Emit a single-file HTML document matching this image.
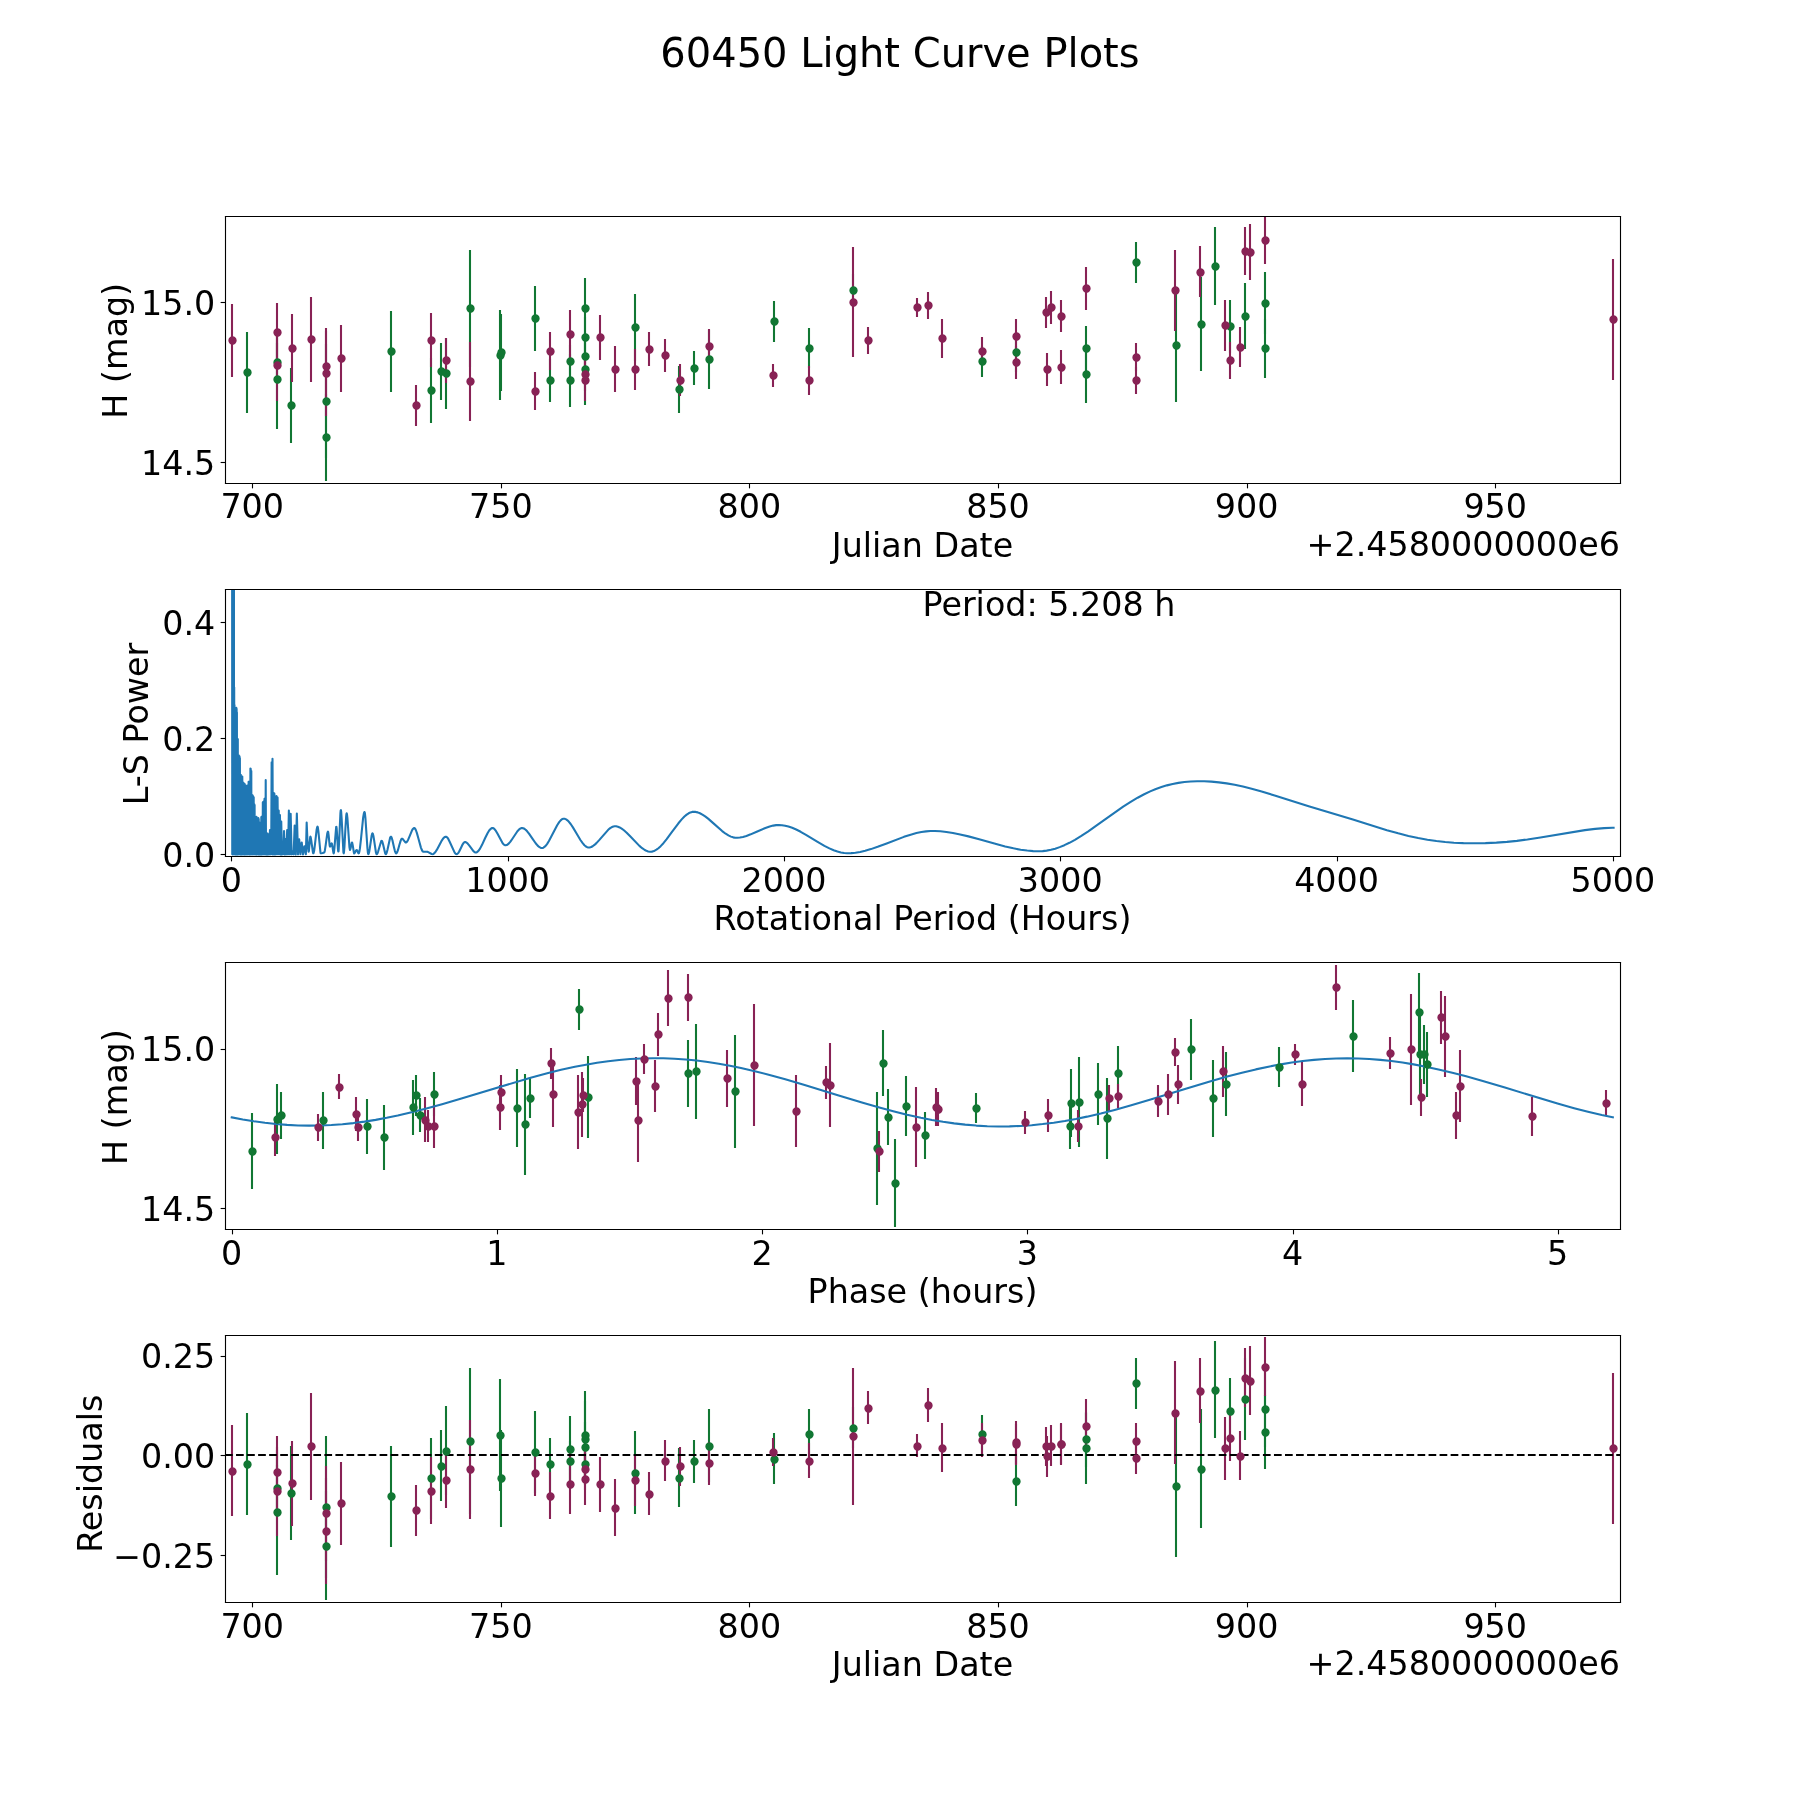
<!DOCTYPE html>
<html><head><meta charset="utf-8"><title>60450 Light Curve Plots</title>
<style>html,body{margin:0;padding:0;background:#fff;}svg{display:block;will-change:transform;}</style>
</head><body>
<svg width="1800" height="1800" viewBox="0 0 1296 1296" version="1.1">
<defs>
<style type="text/css">*{stroke-linejoin: round; stroke-linecap: butt}</style>
</defs>
<g id="figure_1">
<g id="patch_1">
<path d="M 0 1296 L 1296 1296 L 1296 0 L 0 0 z
" style="fill: #ffffff"/>
</g>
<g id="axes_1">
<g id="patch_2">
<path d="M 162 347.427692 L 1166.4 347.427692 L 1166.4 155.52 L 162 155.52 z
" style="fill: #ffffff"/>
</g>
<g id="matplotlib.axis_1">
<g id="xtick_1">
<g id="line2d_1">
<defs>
<path id="m4935d6132a" d="M 0 0 L 0 3.5 " style="stroke: #000000; stroke-width: 0.8"/>
</defs>
<g>
<use href="#m4935d6132a" x="181.8" y="348.12" style="stroke: #000000; stroke-width: 0.8"/>
</g>
</g>
<g id="text_1">
<g transform="translate(0 0.576)"><text style="font-size: 24px; font-family: 'DejaVu Sans', sans-serif; text-anchor: middle" x="181.584" y="372.663942" transform="rotate(-0 181.584 372.663942)">700</text></g>
</g>
</g>
<g id="xtick_2">
<g id="line2d_2">
<g>
<use href="#m4935d6132a" x="361.08" y="348.12" style="stroke: #000000; stroke-width: 0.8"/>
</g>
</g>
<g id="text_2">
<g transform="translate(0 0.576)"><text style="font-size: 24px; font-family: 'DejaVu Sans', sans-serif; text-anchor: middle" x="360.576" y="372.663942" transform="rotate(-0 360.576 372.663942)">750</text></g>
</g>
</g>
<g id="xtick_3">
<g id="line2d_3">
<g>
<use href="#m4935d6132a" x="539.64" y="348.12" style="stroke: #000000; stroke-width: 0.8"/>
</g>
</g>
<g id="text_3">
<g transform="translate(0 0.576)"><text style="font-size: 24px; font-family: 'DejaVu Sans', sans-serif; text-anchor: middle" x="539.568" y="372.663942" transform="rotate(-0 539.568 372.663942)">800</text></g>
</g>
</g>
<g id="xtick_4">
<g id="line2d_4">
<g>
<use href="#m4935d6132a" x="718.92" y="348.12" style="stroke: #000000; stroke-width: 0.8"/>
</g>
</g>
<g id="text_4">
<g transform="translate(0 0.576)"><text style="font-size: 24px; font-family: 'DejaVu Sans', sans-serif; text-anchor: middle" x="718.56" y="372.663942" transform="rotate(-0 718.56 372.663942)">850</text></g>
</g>
</g>
<g id="xtick_5">
<g id="line2d_5">
<g>
<use href="#m4935d6132a" x="898.2" y="348.12" style="stroke: #000000; stroke-width: 0.8"/>
</g>
</g>
<g id="text_5">
<g transform="translate(0 0.576)"><text style="font-size: 24px; font-family: 'DejaVu Sans', sans-serif; text-anchor: middle" x="897.552" y="372.663942" transform="rotate(-0 897.552 372.663942)">900</text></g>
</g>
</g>
<g id="xtick_6">
<g id="line2d_6">
<g>
<use href="#m4935d6132a" x="1076.76" y="348.12" style="stroke: #000000; stroke-width: 0.8"/>
</g>
</g>
<g id="text_6">
<g transform="translate(0 0.576)"><text style="font-size: 24px; font-family: 'DejaVu Sans', sans-serif; text-anchor: middle" x="1076.544" y="372.663942" transform="rotate(-0 1076.544 372.663942)">950</text></g>
</g>
</g>
<g id="text_7">
<g transform="translate(0 0.936)"><text style="font-size: 24px; font-family: 'DejaVu Sans', sans-serif; text-anchor: middle" x="664.2" y="399.891442" transform="rotate(-0 664.2 399.891442)">Julian Date</text></g>
</g>
<g id="text_8">
<g transform="translate(0 1.08)"><text style="font-size: 24px; font-family: 'DejaVu Sans', sans-serif; text-anchor: end" x="1166.4" y="398.891442" transform="rotate(-0 1166.4 398.891442)">+2.4580000000e6</text></g>
</g>
</g>
<g id="matplotlib.axis_2">
<g id="ytick_1">
<g id="line2d_7">
<defs>
<path id="me6e466fa30" d="M 0 0 L -3.5 0 " style="stroke: #000000; stroke-width: 0.8"/>
</defs>
<g>
<use href="#me6e466fa30" x="162.36" y="333" style="stroke: #000000; stroke-width: 0.8"/>
</g>
</g>
<g id="text_9">
<text style="font-size: 24px; font-family: 'DejaVu Sans', sans-serif; text-anchor: end" x="155" y="341.686099" transform="rotate(-0 155 341.686099)">14.5</text>
</g>
</g>
<g id="ytick_2">
<g id="line2d_8">
<g>
<use href="#me6e466fa30" x="162.36" y="217.8" style="stroke: #000000; stroke-width: 0.8"/>
</g>
</g>
<g id="text_10">
<text style="font-size: 24px; font-family: 'DejaVu Sans', sans-serif; text-anchor: end" x="155" y="226.774116" transform="rotate(-0 155 226.774116)">15.0</text>
</g>
</g>
<g id="text_11">
<g transform="translate(-1.44 1.08)"><text style="font-size: 24px; font-family: 'DejaVu Sans', sans-serif; text-anchor: middle" x="92.57125" y="251.473846" transform="rotate(-90 92.57125 251.473846)">H (mag)</text></g>
</g>
</g>
<g id="LineCollection_1">
<path d="M 177.84 297.36 L 177.84 239.04" clip-path="url(#p80fca86219)" style="fill: none; stroke: #117733; stroke-width: 1.5"/>
<path d="M 199.44 274.32 L 199.44 246.96" clip-path="url(#p80fca86219)" style="fill: none; stroke: #117733; stroke-width: 1.5"/>
<path d="M 199.44 308.88 L 199.44 236.88" clip-path="url(#p80fca86219)" style="fill: none; stroke: #117733; stroke-width: 1.5"/>
<path d="M 209.52 318.96 L 209.52 264.96" clip-path="url(#p80fca86219)" style="fill: none; stroke: #117733; stroke-width: 1.5"/>
<path d="M 234.72 329.76 L 234.72 247.68" clip-path="url(#p80fca86219)" style="fill: none; stroke: #117733; stroke-width: 1.5"/>
<path d="M 234.72 346.32 L 234.72 283.68" clip-path="url(#p80fca86219)" style="fill: none; stroke: #117733; stroke-width: 1.5"/>
<path d="M 281.52 282.24 L 281.52 223.92" clip-path="url(#p80fca86219)" style="fill: none; stroke: #117733; stroke-width: 1.5"/>
<path d="M 310.32 304.56 L 310.32 257.76" clip-path="url(#p80fca86219)" style="fill: none; stroke: #117733; stroke-width: 1.5"/>
<path d="M 317.52 288 L 317.52 246.96" clip-path="url(#p80fca86219)" style="fill: none; stroke: #117733; stroke-width: 1.5"/>
<path d="M 321.12 294.48 L 321.12 243.36" clip-path="url(#p80fca86219)" style="fill: none; stroke: #117733; stroke-width: 1.5"/>
<path d="M 338.4 264.24 L 338.4 180" clip-path="url(#p80fca86219)" style="fill: none; stroke: #117733; stroke-width: 1.5"/>
<path d="M 360 288 L 360 223.2" clip-path="url(#p80fca86219)" style="fill: none; stroke: #117733; stroke-width: 1.5"/>
<path d="M 360.72 281.52 L 360.72 226.08" clip-path="url(#p80fca86219)" style="fill: none; stroke: #117733; stroke-width: 1.5"/>
<path d="M 385.2 252.72 L 385.2 205.92" clip-path="url(#p80fca86219)" style="fill: none; stroke: #117733; stroke-width: 1.5"/>
<path d="M 396 289.44 L 396 258.48" clip-path="url(#p80fca86219)" style="fill: none; stroke: #117733; stroke-width: 1.5"/>
<path d="M 410.4 272.16 L 410.4 248.4" clip-path="url(#p80fca86219)" style="fill: none; stroke: #117733; stroke-width: 1.5"/>
<path d="M 410.4 293.04 L 410.4 254.88" clip-path="url(#p80fca86219)" style="fill: none; stroke: #117733; stroke-width: 1.5"/>
<path d="M 421.2 244.08 L 421.2 200.16" clip-path="url(#p80fca86219)" style="fill: none; stroke: #117733; stroke-width: 1.5"/>
<path d="M 421.2 257.04 L 421.2 228.24" clip-path="url(#p80fca86219)" style="fill: none; stroke: #117733; stroke-width: 1.5"/>
<path d="M 421.2 268.56 L 421.2 244.8" clip-path="url(#p80fca86219)" style="fill: none; stroke: #117733; stroke-width: 1.5"/>
<path d="M 421.2 291.6 L 421.2 240.48" clip-path="url(#p80fca86219)" style="fill: none; stroke: #117733; stroke-width: 1.5"/>
<path d="M 457.2 259.92 L 457.2 211.68" clip-path="url(#p80fca86219)" style="fill: none; stroke: #117733; stroke-width: 1.5"/>
<path d="M 488.88 297.36 L 488.88 263.52" clip-path="url(#p80fca86219)" style="fill: none; stroke: #117733; stroke-width: 1.5"/>
<path d="M 499.68 277.2 L 499.68 252.72" clip-path="url(#p80fca86219)" style="fill: none; stroke: #117733; stroke-width: 1.5"/>
<path d="M 510.48 280.08 L 510.48 237.6" clip-path="url(#p80fca86219)" style="fill: none; stroke: #117733; stroke-width: 1.5"/>
<path d="M 557.28 246.24 L 557.28 216.72" clip-path="url(#p80fca86219)" style="fill: none; stroke: #117733; stroke-width: 1.5"/>
<path d="M 582.48 264.96 L 582.48 236.16" clip-path="url(#p80fca86219)" style="fill: none; stroke: #117733; stroke-width: 1.5"/>
<path d="M 614.16 221.04 L 614.16 197.28" clip-path="url(#p80fca86219)" style="fill: none; stroke: #117733; stroke-width: 1.5"/>
<path d="M 707.04 271.44 L 707.04 249.12" clip-path="url(#p80fca86219)" style="fill: none; stroke: #117733; stroke-width: 1.5"/>
<path d="M 731.52 267.84 L 731.52 239.04" clip-path="url(#p80fca86219)" style="fill: none; stroke: #117733; stroke-width: 1.5"/>
<path d="M 781.92 266.4 L 781.92 234.72" clip-path="url(#p80fca86219)" style="fill: none; stroke: #117733; stroke-width: 1.5"/>
<path d="M 781.92 290.16 L 781.92 249.12" clip-path="url(#p80fca86219)" style="fill: none; stroke: #117733; stroke-width: 1.5"/>
<path d="M 817.92 203.76 L 817.92 174.24" clip-path="url(#p80fca86219)" style="fill: none; stroke: #117733; stroke-width: 1.5"/>
<path d="M 846.72 289.44 L 846.72 208.08" clip-path="url(#p80fca86219)" style="fill: none; stroke: #117733; stroke-width: 1.5"/>
<path d="M 864.72 267.12 L 864.72 199.44" clip-path="url(#p80fca86219)" style="fill: none; stroke: #117733; stroke-width: 1.5"/>
<path d="M 874.8 219.6 L 874.8 163.44" clip-path="url(#p80fca86219)" style="fill: none; stroke: #117733; stroke-width: 1.5"/>
<path d="M 885.6 254.16 L 885.6 216" clip-path="url(#p80fca86219)" style="fill: none; stroke: #117733; stroke-width: 1.5"/>
<path d="M 896.4 251.28 L 896.4 203.76" clip-path="url(#p80fca86219)" style="fill: none; stroke: #117733; stroke-width: 1.5"/>
<path d="M 910.8 240.48 L 910.8 195.84" clip-path="url(#p80fca86219)" style="fill: none; stroke: #117733; stroke-width: 1.5"/>
<path d="M 910.8 272.16 L 910.8 229.68" clip-path="url(#p80fca86219)" style="fill: none; stroke: #117733; stroke-width: 1.5"/>
</g>
<g id="LineCollection_2">
<path d="M 167.04 271.44 L 167.04 218.88" clip-path="url(#p80fca86219)" style="fill: none; stroke: #882255; stroke-width: 1.5"/>
<path d="M 199.44 260.64 L 199.44 218.16" clip-path="url(#p80fca86219)" style="fill: none; stroke: #882255; stroke-width: 1.5"/>
<path d="M 199.44 288.72 L 199.44 237.6" clip-path="url(#p80fca86219)" style="fill: none; stroke: #882255; stroke-width: 1.5"/>
<path d="M 210.24 275.04 L 210.24 226.08" clip-path="url(#p80fca86219)" style="fill: none; stroke: #882255; stroke-width: 1.5"/>
<path d="M 223.92 275.04 L 223.92 213.84" clip-path="url(#p80fca86219)" style="fill: none; stroke: #882255; stroke-width: 1.5"/>
<path d="M 234.72 290.88 L 234.72 236.16" clip-path="url(#p80fca86219)" style="fill: none; stroke: #882255; stroke-width: 1.5"/>
<path d="M 234.72 299.52 L 234.72 238.32" clip-path="url(#p80fca86219)" style="fill: none; stroke: #882255; stroke-width: 1.5"/>
<path d="M 245.52 282.24 L 245.52 234" clip-path="url(#p80fca86219)" style="fill: none; stroke: #882255; stroke-width: 1.5"/>
<path d="M 299.52 306.72 L 299.52 277.2" clip-path="url(#p80fca86219)" style="fill: none; stroke: #882255; stroke-width: 1.5"/>
<path d="M 310.32 264.24 L 310.32 225.36" clip-path="url(#p80fca86219)" style="fill: none; stroke: #882255; stroke-width: 1.5"/>
<path d="M 321.12 275.76 L 321.12 243.36" clip-path="url(#p80fca86219)" style="fill: none; stroke: #882255; stroke-width: 1.5"/>
<path d="M 338.4 303.12 L 338.4 246.24" clip-path="url(#p80fca86219)" style="fill: none; stroke: #882255; stroke-width: 1.5"/>
<path d="M 385.2 295.2 L 385.2 267.84" clip-path="url(#p80fca86219)" style="fill: none; stroke: #882255; stroke-width: 1.5"/>
<path d="M 396 266.4 L 396 239.04" clip-path="url(#p80fca86219)" style="fill: none; stroke: #882255; stroke-width: 1.5"/>
<path d="M 410.4 257.76 L 410.4 223.2" clip-path="url(#p80fca86219)" style="fill: none; stroke: #882255; stroke-width: 1.5"/>
<path d="M 421.2 281.52 L 421.2 257.04" clip-path="url(#p80fca86219)" style="fill: none; stroke: #882255; stroke-width: 1.5"/>
<path d="M 421.2 288.72 L 421.2 258.48" clip-path="url(#p80fca86219)" style="fill: none; stroke: #882255; stroke-width: 1.5"/>
<path d="M 432 259.2 L 432 226.8" clip-path="url(#p80fca86219)" style="fill: none; stroke: #882255; stroke-width: 1.5"/>
<path d="M 442.8 282.24 L 442.8 249.12" clip-path="url(#p80fca86219)" style="fill: none; stroke: #882255; stroke-width: 1.5"/>
<path d="M 457.2 280.8 L 457.2 251.28" clip-path="url(#p80fca86219)" style="fill: none; stroke: #882255; stroke-width: 1.5"/>
<path d="M 467.28 263.52 L 467.28 239.04" clip-path="url(#p80fca86219)" style="fill: none; stroke: #882255; stroke-width: 1.5"/>
<path d="M 478.8 267.84 L 478.8 244.08" clip-path="url(#p80fca86219)" style="fill: none; stroke: #882255; stroke-width: 1.5"/>
<path d="M 489.6 285.12 L 489.6 262.08" clip-path="url(#p80fca86219)" style="fill: none; stroke: #882255; stroke-width: 1.5"/>
<path d="M 510.48 261.36 L 510.48 236.88" clip-path="url(#p80fca86219)" style="fill: none; stroke: #882255; stroke-width: 1.5"/>
<path d="M 556.56 278.64 L 556.56 262.08" clip-path="url(#p80fca86219)" style="fill: none; stroke: #882255; stroke-width: 1.5"/>
<path d="M 582.48 284.4 L 582.48 263.52" clip-path="url(#p80fca86219)" style="fill: none; stroke: #882255; stroke-width: 1.5"/>
<path d="M 614.16 257.04 L 614.16 177.84" clip-path="url(#p80fca86219)" style="fill: none; stroke: #882255; stroke-width: 1.5"/>
<path d="M 624.96 254.88 L 624.96 235.44" clip-path="url(#p80fca86219)" style="fill: none; stroke: #882255; stroke-width: 1.5"/>
<path d="M 660.24 228.24 L 660.24 214.56" clip-path="url(#p80fca86219)" style="fill: none; stroke: #882255; stroke-width: 1.5"/>
<path d="M 668.16 229.68 L 668.16 210.24" clip-path="url(#p80fca86219)" style="fill: none; stroke: #882255; stroke-width: 1.5"/>
<path d="M 678.24 257.76 L 678.24 229.68" clip-path="url(#p80fca86219)" style="fill: none; stroke: #882255; stroke-width: 1.5"/>
<path d="M 707.04 262.8 L 707.04 242.64" clip-path="url(#p80fca86219)" style="fill: none; stroke: #882255; stroke-width: 1.5"/>
<path d="M 731.52 254.16 L 731.52 229.68" clip-path="url(#p80fca86219)" style="fill: none; stroke: #882255; stroke-width: 1.5"/>
<path d="M 731.52 272.88 L 731.52 249.12" clip-path="url(#p80fca86219)" style="fill: none; stroke: #882255; stroke-width: 1.5"/>
<path d="M 753.12 236.16 L 753.12 213.84" clip-path="url(#p80fca86219)" style="fill: none; stroke: #882255; stroke-width: 1.5"/>
<path d="M 756.72 233.28 L 756.72 209.52" clip-path="url(#p80fca86219)" style="fill: none; stroke: #882255; stroke-width: 1.5"/>
<path d="M 763.92 239.04 L 763.92 216" clip-path="url(#p80fca86219)" style="fill: none; stroke: #882255; stroke-width: 1.5"/>
<path d="M 753.84 277.92 L 753.84 254.16" clip-path="url(#p80fca86219)" style="fill: none; stroke: #882255; stroke-width: 1.5"/>
<path d="M 763.92 276.48 L 763.92 252" clip-path="url(#p80fca86219)" style="fill: none; stroke: #882255; stroke-width: 1.5"/>
<path d="M 781.92 223.2 L 781.92 192.24" clip-path="url(#p80fca86219)" style="fill: none; stroke: #882255; stroke-width: 1.5"/>
<path d="M 817.92 267.12 L 817.92 246.96" clip-path="url(#p80fca86219)" style="fill: none; stroke: #882255; stroke-width: 1.5"/>
<path d="M 817.92 283.68 L 817.92 264.24" clip-path="url(#p80fca86219)" style="fill: none; stroke: #882255; stroke-width: 1.5"/>
<path d="M 846 238.32 L 846 180" clip-path="url(#p80fca86219)" style="fill: none; stroke: #882255; stroke-width: 1.5"/>
<path d="M 864 213.84 L 864 177.12" clip-path="url(#p80fca86219)" style="fill: none; stroke: #882255; stroke-width: 1.5"/>
<path d="M 882 252.72 L 882 216" clip-path="url(#p80fca86219)" style="fill: none; stroke: #882255; stroke-width: 1.5"/>
<path d="M 885.6 272.88 L 885.6 246.24" clip-path="url(#p80fca86219)" style="fill: none; stroke: #882255; stroke-width: 1.5"/>
<path d="M 892.8 264.24 L 892.8 235.44" clip-path="url(#p80fca86219)" style="fill: none; stroke: #882255; stroke-width: 1.5"/>
<path d="M 896.4 198 L 896.4 163.44" clip-path="url(#p80fca86219)" style="fill: none; stroke: #882255; stroke-width: 1.5"/>
<path d="M 900 201.6 L 900 161.28" clip-path="url(#p80fca86219)" style="fill: none; stroke: #882255; stroke-width: 1.5"/>
<path d="M 910.8 190.08 L 910.8 156.24" clip-path="url(#p80fca86219)" style="fill: none; stroke: #882255; stroke-width: 1.5"/>
<path d="M 1161.36 273.6 L 1161.36 186.48" clip-path="url(#p80fca86219)" style="fill: none; stroke: #882255; stroke-width: 1.5"/>
</g>
<g id="line2d_9">
<defs>
<path id="m12f4fc1c12" d="M 0 3 C 0.795609 3 1.55874 2.683901 2.12132 2.12132 C 2.683901 1.55874 3 0.795609 3 0 C 3 -0.795609 2.683901 -1.55874 2.12132 -2.12132 C 1.55874 -2.683901 0.795609 -3 0 -3 C -0.795609 -3 -1.55874 -2.683901 -2.12132 -2.12132 C -2.683901 -1.55874 -3 -0.795609 -3 0 C -3 0.795609 -2.683901 1.55874 -2.12132 2.12132 C -1.55874 2.683901 -0.795609 3 0 3 z
"/>
</defs>
<g clip-path="url(#p80fca86219)">
<use href="#m12f4fc1c12" x="178.2" y="268.2" style="fill: #117733"/>
<use href="#m12f4fc1c12" x="199.8" y="261" style="fill: #117733"/>
<use href="#m12f4fc1c12" x="199.8" y="273.24" style="fill: #117733"/>
<use href="#m12f4fc1c12" x="209.88" y="291.96" style="fill: #117733"/>
<use href="#m12f4fc1c12" x="235.08" y="289.08" style="fill: #117733"/>
<use href="#m12f4fc1c12" x="235.08" y="315" style="fill: #117733"/>
<use href="#m12f4fc1c12" x="281.88" y="253.08" style="fill: #117733"/>
<use href="#m12f4fc1c12" x="310.68" y="281.16" style="fill: #117733"/>
<use href="#m12f4fc1c12" x="317.88" y="267.48" style="fill: #117733"/>
<use href="#m12f4fc1c12" x="321.48" y="268.92" style="fill: #117733"/>
<use href="#m12f4fc1c12" x="338.76" y="222.12" style="fill: #117733"/>
<use href="#m12f4fc1c12" x="360.36" y="255.96" style="fill: #117733"/>
<use href="#m12f4fc1c12" x="361.08" y="253.8" style="fill: #117733"/>
<use href="#m12f4fc1c12" x="385.56" y="229.32" style="fill: #117733"/>
<use href="#m12f4fc1c12" x="396.36" y="273.96" style="fill: #117733"/>
<use href="#m12f4fc1c12" x="410.76" y="260.28" style="fill: #117733"/>
<use href="#m12f4fc1c12" x="410.76" y="273.96" style="fill: #117733"/>
<use href="#m12f4fc1c12" x="421.56" y="222.12" style="fill: #117733"/>
<use href="#m12f4fc1c12" x="421.56" y="243" style="fill: #117733"/>
<use href="#m12f4fc1c12" x="421.56" y="256.68" style="fill: #117733"/>
<use href="#m12f4fc1c12" x="421.56" y="266.04" style="fill: #117733"/>
<use href="#m12f4fc1c12" x="457.56" y="235.8" style="fill: #117733"/>
<use href="#m12f4fc1c12" x="489.24" y="280.44" style="fill: #117733"/>
<use href="#m12f4fc1c12" x="500.04" y="265.32" style="fill: #117733"/>
<use href="#m12f4fc1c12" x="510.84" y="258.84" style="fill: #117733"/>
<use href="#m12f4fc1c12" x="557.64" y="231.48" style="fill: #117733"/>
<use href="#m12f4fc1c12" x="582.84" y="250.92" style="fill: #117733"/>
<use href="#m12f4fc1c12" x="614.52" y="209.16" style="fill: #117733"/>
<use href="#m12f4fc1c12" x="707.4" y="260.28" style="fill: #117733"/>
<use href="#m12f4fc1c12" x="731.88" y="253.8" style="fill: #117733"/>
<use href="#m12f4fc1c12" x="782.28" y="250.92" style="fill: #117733"/>
<use href="#m12f4fc1c12" x="782.28" y="269.64" style="fill: #117733"/>
<use href="#m12f4fc1c12" x="818.28" y="189" style="fill: #117733"/>
<use href="#m12f4fc1c12" x="847.08" y="248.76" style="fill: #117733"/>
<use href="#m12f4fc1c12" x="865.08" y="233.64" style="fill: #117733"/>
<use href="#m12f4fc1c12" x="875.16" y="191.88" style="fill: #117733"/>
<use href="#m12f4fc1c12" x="885.96" y="235.08" style="fill: #117733"/>
<use href="#m12f4fc1c12" x="896.76" y="227.88" style="fill: #117733"/>
<use href="#m12f4fc1c12" x="911.16" y="218.52" style="fill: #117733"/>
<use href="#m12f4fc1c12" x="911.16" y="250.92" style="fill: #117733"/>
</g>
</g>
<g id="line2d_10">
<defs>
<path id="m32cfd63de9" d="M 0 3 C 0.795609 3 1.55874 2.683901 2.12132 2.12132 C 2.683901 1.55874 3 0.795609 3 0 C 3 -0.795609 2.683901 -1.55874 2.12132 -2.12132 C 1.55874 -2.683901 0.795609 -3 0 -3 C -0.795609 -3 -1.55874 -2.683901 -2.12132 -2.12132 C -2.683901 -1.55874 -3 -0.795609 -3 0 C -3 0.795609 -2.683901 1.55874 -2.12132 2.12132 C -1.55874 2.683901 -0.795609 3 0 3 z
"/>
</defs>
<g clip-path="url(#p80fca86219)">
<use href="#m32cfd63de9" x="167.4" y="245.16" style="fill: #882255"/>
<use href="#m32cfd63de9" x="199.8" y="239.4" style="fill: #882255"/>
<use href="#m32cfd63de9" x="199.8" y="263.16" style="fill: #882255"/>
<use href="#m32cfd63de9" x="210.6" y="250.92" style="fill: #882255"/>
<use href="#m32cfd63de9" x="224.28" y="244.44" style="fill: #882255"/>
<use href="#m32cfd63de9" x="235.08" y="263.88" style="fill: #882255"/>
<use href="#m32cfd63de9" x="235.08" y="268.92" style="fill: #882255"/>
<use href="#m32cfd63de9" x="245.88" y="258.12" style="fill: #882255"/>
<use href="#m32cfd63de9" x="299.88" y="291.96" style="fill: #882255"/>
<use href="#m32cfd63de9" x="310.68" y="245.16" style="fill: #882255"/>
<use href="#m32cfd63de9" x="321.48" y="259.56" style="fill: #882255"/>
<use href="#m32cfd63de9" x="338.76" y="274.68" style="fill: #882255"/>
<use href="#m32cfd63de9" x="385.56" y="281.88" style="fill: #882255"/>
<use href="#m32cfd63de9" x="396.36" y="253.08" style="fill: #882255"/>
<use href="#m32cfd63de9" x="410.76" y="240.84" style="fill: #882255"/>
<use href="#m32cfd63de9" x="421.56" y="269.64" style="fill: #882255"/>
<use href="#m32cfd63de9" x="421.56" y="273.96" style="fill: #882255"/>
<use href="#m32cfd63de9" x="432.36" y="243" style="fill: #882255"/>
<use href="#m32cfd63de9" x="443.16" y="266.04" style="fill: #882255"/>
<use href="#m32cfd63de9" x="457.56" y="266.04" style="fill: #882255"/>
<use href="#m32cfd63de9" x="467.64" y="251.64" style="fill: #882255"/>
<use href="#m32cfd63de9" x="479.16" y="255.96" style="fill: #882255"/>
<use href="#m32cfd63de9" x="489.96" y="273.96" style="fill: #882255"/>
<use href="#m32cfd63de9" x="510.84" y="249.48" style="fill: #882255"/>
<use href="#m32cfd63de9" x="556.92" y="270.36" style="fill: #882255"/>
<use href="#m32cfd63de9" x="582.84" y="273.96" style="fill: #882255"/>
<use href="#m32cfd63de9" x="614.52" y="217.8" style="fill: #882255"/>
<use href="#m32cfd63de9" x="625.32" y="245.16" style="fill: #882255"/>
<use href="#m32cfd63de9" x="660.6" y="221.4" style="fill: #882255"/>
<use href="#m32cfd63de9" x="668.52" y="219.96" style="fill: #882255"/>
<use href="#m32cfd63de9" x="678.6" y="243.72" style="fill: #882255"/>
<use href="#m32cfd63de9" x="707.4" y="253.08" style="fill: #882255"/>
<use href="#m32cfd63de9" x="731.88" y="242.28" style="fill: #882255"/>
<use href="#m32cfd63de9" x="731.88" y="261" style="fill: #882255"/>
<use href="#m32cfd63de9" x="753.48" y="225" style="fill: #882255"/>
<use href="#m32cfd63de9" x="757.08" y="221.4" style="fill: #882255"/>
<use href="#m32cfd63de9" x="764.28" y="227.88" style="fill: #882255"/>
<use href="#m32cfd63de9" x="754.2" y="266.04" style="fill: #882255"/>
<use href="#m32cfd63de9" x="764.28" y="264.6" style="fill: #882255"/>
<use href="#m32cfd63de9" x="782.28" y="207.72" style="fill: #882255"/>
<use href="#m32cfd63de9" x="818.28" y="257.4" style="fill: #882255"/>
<use href="#m32cfd63de9" x="818.28" y="273.96" style="fill: #882255"/>
<use href="#m32cfd63de9" x="846.36" y="209.16" style="fill: #882255"/>
<use href="#m32cfd63de9" x="864.36" y="196.2" style="fill: #882255"/>
<use href="#m32cfd63de9" x="882.36" y="234.36" style="fill: #882255"/>
<use href="#m32cfd63de9" x="885.96" y="259.56" style="fill: #882255"/>
<use href="#m32cfd63de9" x="893.16" y="250.2" style="fill: #882255"/>
<use href="#m32cfd63de9" x="896.76" y="181.08" style="fill: #882255"/>
<use href="#m32cfd63de9" x="900.36" y="181.8" style="fill: #882255"/>
<use href="#m32cfd63de9" x="911.16" y="173.16" style="fill: #882255"/>
<use href="#m32cfd63de9" x="1161.72" y="230.04" style="fill: #882255"/>
</g>
</g>
<g id="patch_3">
<path d="M 162.36 348.12 L 162.36 155.88" style="fill: none; stroke: #000000; stroke-width: 0.8; stroke-linejoin: miter; stroke-linecap: square"/>
</g>
<g id="patch_4">
<path d="M 1166.76 348.12 L 1166.76 155.88" style="fill: none; stroke: #000000; stroke-width: 0.8; stroke-linejoin: miter; stroke-linecap: square"/>
</g>
<g id="patch_5">
<path d="M 162.36 348.12 L 1166.76 348.12" style="fill: none; stroke: #000000; stroke-width: 0.8; stroke-linejoin: miter; stroke-linecap: square"/>
</g>
<g id="patch_6">
<path d="M 162.36 155.88 L 1166.76 155.88" style="fill: none; stroke: #000000; stroke-width: 0.8; stroke-linejoin: miter; stroke-linecap: square"/>
</g>
</g>
<g id="axes_2">
<g id="patch_7">
<path d="M 162 616.098462 L 1166.4 616.098462 L 1166.4 424.190769 L 162 424.190769 z
" style="fill: #ffffff"/>
</g>
<g id="matplotlib.axis_3">
<g id="xtick_7">
<g id="line2d_11">
<g>
<use href="#m4935d6132a" x="166.68" y="616.68" style="stroke: #000000; stroke-width: 0.8"/>
</g>
</g>
<g id="text_12">
<g transform="translate(0 0.576)"><text style="font-size: 24px; font-family: 'DejaVu Sans', sans-serif; text-anchor: middle" x="166.572" y="641.334712" transform="rotate(-0 166.572 641.334712)">0</text></g>
</g>
</g>
<g id="xtick_8">
<g id="line2d_12">
<g>
<use href="#m4935d6132a" x="366.12" y="616.68" style="stroke: #000000; stroke-width: 0.8"/>
</g>
</g>
<g id="text_13">
<g transform="translate(0 0.576)"><text style="font-size: 24px; font-family: 'DejaVu Sans', sans-serif; text-anchor: middle" x="365.508" y="641.334712" transform="rotate(-0 365.508 641.334712)">1000</text></g>
</g>
</g>
<g id="xtick_9">
<g id="line2d_13">
<g>
<use href="#m4935d6132a" x="564.84" y="616.68" style="stroke: #000000; stroke-width: 0.8"/>
</g>
</g>
<g id="text_14">
<g transform="translate(0 0.576)"><text style="font-size: 24px; font-family: 'DejaVu Sans', sans-serif; text-anchor: middle" x="564.444" y="641.334712" transform="rotate(-0 564.444 641.334712)">2000</text></g>
</g>
</g>
<g id="xtick_10">
<g id="line2d_14">
<g>
<use href="#m4935d6132a" x="763.56" y="616.68" style="stroke: #000000; stroke-width: 0.8"/>
</g>
</g>
<g id="text_15">
<g transform="translate(0 0.576)"><text style="font-size: 24px; font-family: 'DejaVu Sans', sans-serif; text-anchor: middle" x="763.38" y="641.334712" transform="rotate(-0 763.38 641.334712)">3000</text></g>
</g>
</g>
<g id="xtick_11">
<g id="line2d_15">
<g>
<use href="#m4935d6132a" x="963" y="616.68" style="stroke: #000000; stroke-width: 0.8"/>
</g>
</g>
<g id="text_16">
<g transform="translate(0 0.576)"><text style="font-size: 24px; font-family: 'DejaVu Sans', sans-serif; text-anchor: middle" x="962.316" y="641.334712" transform="rotate(-0 962.316 641.334712)">4000</text></g>
</g>
</g>
<g id="xtick_12">
<g id="line2d_16">
<g>
<use href="#m4935d6132a" x="1161.72" y="616.68" style="stroke: #000000; stroke-width: 0.8"/>
</g>
</g>
<g id="text_17">
<g transform="translate(0 0.576)"><text style="font-size: 24px; font-family: 'DejaVu Sans', sans-serif; text-anchor: middle" x="1161.252" y="641.334712" transform="rotate(-0 1161.252 641.334712)">5000</text></g>
</g>
</g>
<g id="text_18">
<g transform="translate(0 0.864)"><text style="font-size: 24px; font-family: 'DejaVu Sans', sans-serif; text-anchor: middle" x="664.2" y="668.562212" transform="rotate(-0 664.2 668.562212)">Rotational Period (Hours)</text></g>
</g>
</g>
<g id="matplotlib.axis_4">
<g id="ytick_3">
<g id="line2d_17">
<g>
<use href="#me6e466fa30" x="162.36" y="615.24" style="stroke: #000000; stroke-width: 0.8"/>
</g>
</g>
<g id="text_19">
<text style="font-size: 24px; font-family: 'DejaVu Sans', sans-serif; text-anchor: end" x="155" y="624.322131" transform="rotate(-0 155 624.322131)">0.0</text>
</g>
</g>
<g id="ytick_4">
<g id="line2d_18">
<g>
<use href="#me6e466fa30" x="162.36" y="531.72" style="stroke: #000000; stroke-width: 0.8"/>
</g>
</g>
<g id="text_20">
<text style="font-size: 24px; font-family: 'DejaVu Sans', sans-serif; text-anchor: end" x="155" y="540.802143" transform="rotate(-0 155 540.802143)">0.2</text>
</g>
</g>
<g id="ytick_5">
<g id="line2d_19">
<g>
<use href="#me6e466fa30" x="162.36" y="448.2" style="stroke: #000000; stroke-width: 0.8"/>
</g>
</g>
<g id="text_21">
<text style="font-size: 24px; font-family: 'DejaVu Sans', sans-serif; text-anchor: end" x="155" y="457.282155" transform="rotate(-0 155 457.282155)">0.4</text>
</g>
</g>
<g id="text_22">
<g transform="translate(-1.224 1.08)"><text style="font-size: 24px; font-family: 'DejaVu Sans', sans-serif; text-anchor: middle" x="107.84125" y="520.144615" transform="rotate(-90 107.84125 520.144615)">L-S Power</text></g>
</g>
</g>
<g id="line2d_20">
<path d="M 167.112 364.783899 L 167.22 615.032409 L 167.328 362.862338 L 167.436 615.322716 L 167.544 368.930059 L 167.652 615.042631 L 167.76 372.693054 L 167.868 615.065235 L 167.976 362.589477 L 168.084 615.217858 L 168.192 368.893487 L 168.3 615.299726 L 168.408 369.508054 L 168.516 615.227733 L 168.624 494.81805 L 168.732 615.180895 L 168.84 507.624231 L 168.948 615.077576 L 169.056 509.632772 L 169.164 614.992775 L 169.272 511.821817 L 169.38 615.350794 L 169.488 509.684635 L 169.596 615.401023 L 169.704 512.788253 L 169.812 615.197574 L 169.92 510.471939 L 170.028 615.023789 L 170.136 509.594858 L 170.244 615.197907 L 170.352 510.306942 L 170.46 615.313079 L 170.568 512.916766 L 170.676 615.336888 L 170.784 532.651081 L 170.892 615.333344 L 171 534.003047 L 171.108 615.418392 L 171.216 532.072492 L 171.324 615.353278 L 171.432 545.181706 L 171.54 615.039702 L 171.648 544.301534 L 171.756 615.054037 L 171.864 543.829356 L 171.972 615.099561 L 172.08 545.821702 L 172.188 615.186232 L 172.296 544.30887 L 172.404 615.043587 L 172.512 544.84131 L 172.62 615.16159 L 172.728 545.938883 L 172.836 615.252549 L 172.944 559.704389 L 173.052 615.355119 L 173.16 558.287528 L 173.268 615.256085 L 173.376 557.821054 L 173.484 615.165129 L 173.592 558.894371 L 173.7 615.144391 L 173.808 559.948606 L 173.916 615.354865 L 174.024 560.611725 L 174.132 615.316514 L 174.24 560.717918 L 174.348 615.378229 L 174.456 559.130359 L 174.564 615.327124 L 174.672 568.774712 L 174.78 615.290224 L 174.888 568.297216 L 174.996 615.133929 L 175.104 565.764091 L 175.212 615.054934 L 175.32 563.662278 L 175.428 615.029514 L 175.536 564.631945 L 175.644 615.357167 L 175.752 565.606849 L 175.86 615.01915 L 175.968 564.676891 L 176.076 615.342007 L 176.184 564.455923 L 176.292 615.142847 L 176.4 565.258239 L 176.508 615.257449 L 176.616 565.663373 L 176.724 615.316546 L 176.832 566.615083 L 176.94 615.041479 L 177.048 584.830457 L 177.156 615.183427 L 177.264 585.057571 L 177.372 615.095433 L 177.48 585.520898 L 177.588 615.259222 L 177.696 585.512857 L 177.804 615.366916 L 177.912 565.521755 L 178.02 615.135853 L 178.128 566.862715 L 178.236 615.19375 L 178.344 565.756489 L 178.452 615.271307 L 178.56 566.459451 L 178.668 615.124654 L 178.776 567.043872 L 178.884 615.195755 L 178.992 562.861685 L 179.1 615.02724 L 179.208 564.48817 L 179.316 615.016769 L 179.424 564.874498 L 179.532 615.094719 L 179.64 562.741776 L 179.748 615.360924 L 179.856 563.778872 L 179.964 615.067815 L 180.072 564.85042 L 180.18 615.14851 L 180.288 553.287478 L 180.396 615.198388 L 180.504 553.497612 L 180.612 615.322191 L 180.72 555.1472 L 180.828 615.263135 L 180.936 555.206996 L 181.044 615.270507 L 181.152 572.590829 L 181.26 615.172326 L 181.368 573.889758 L 181.476 615.302707 L 181.584 572.582465 L 181.692 615.227991 L 181.8 572.521893 L 181.908 615.1973 L 182.016 573.815235 L 182.124 615.0327 L 182.232 573.345396 L 182.34 615.169164 L 182.448 574.015629 L 182.556 615.040629 L 182.664 574.047439 L 182.772 615.021374 L 182.88 579.961211 L 182.988 615.234247 L 183.096 579.128044 L 183.204 615.0092 L 183.312 579.624314 L 183.42 615.071797 L 183.528 588.282662 L 183.636 615.110225 L 183.744905 588.34676 L 183.855205 615.000291 L 183.966926 588.753035 L 184.080097 615.247951 L 184.194744 588.930586 L 184.310898 615.398101 L 184.428589 588.916908 L 184.547846 615.024525 L 184.668701 588.058691 L 184.791187 615.371446 L 184.915337 589.00944 L 185.041184 615.212993 L 185.168764 589.021592 L 185.298113 615.135199 L 185.429267 589.406451 L 185.562265 615.004702 L 185.697146 589.193754 L 185.833949 615.148666 L 185.972717 588.96742 L 186.113491 615.340565 L 186.256315 589.733545 L 186.401235 615.24223 L 186.548297 594.487352 L 186.697548 615.06783 L 186.849037 594.523034 L 187.002816 615.371101 L 187.158936 592.419148 L 187.317451 615.073526 L 187.478417 592.459954 L 187.64189 615.193938 L 187.80793 592.416539 L 187.976597 615.399852 L 188.147954 588.253315 L 188.322065 615.411273 L 188.498998 587.938239 L 188.678821 615.312624 L 188.861606 588.030667 L 189.047426 615.175038 L 189.236357 577.579167 L 189.428477 615.164958 L 189.623869 577.32814 L 189.822616 615.127164 L 190.024804 577.005888 L 190.230524 615.285839 L 190.439869 575.163834 L 190.652936 615.187418 L 190.869823 575.418382 L 191.090635 615.135738 L 191.315478 561.701963 L 191.544464 615.337384 L 191.777708 600.323553 L 192.015329 615.402861 L 192.257451 600.150783 L 192.504204 615.005255 L 192.75572 600.11099 L 193.012139 615.398099 L 193.273605 600.812177 L 193.540267 615.282628 L 193.812283 600.980324 L 194.089813 615.149309 L 194.373028 597.619906 L 194.662102 615.284478 L 194.957218 597.561861 L 195.258569 615.075647 L 195.566352 548.936856 L 195.880775 615.088723 L 196.202054 546.326641 L 196.530415 615.33478 L 196.866095 570.885374 L 197.209339 615.144066 L 197.560406 571.432056 L 197.919564 615.378428 L 198.287096 582.641145 L 198.663296 615.147001 L 199.048475 573.17341 L 199.442955 615.072888 L 199.847076 574.22655 L 200.261196 615.108081 L 200.685687 583.571338 L 201.120943 615.034252 L 201.567376 586.841139 L 202.025422 615.40847 L 202.495537 591.461904 L 202.978201 615.327265 L 203.473923 607.844139 L 203.983237 615.01185 L 204.506706 598.301366 L 205.044928 615.310807 L 205.59853 604.148818 L 206.168179 615.136076 L 206.754579 597.627177 L 207.358476 615.255593 L 207.980661 583.514741 L 208.621973 615.133829 L 209.283304 585.850826 L 209.965601 615.257205 L 210.66987 612.875525 L 211.397185 615.186932 L 212.148689 594.447903 L 212.925603 615.313125 L 213.72923 585.66413 L 214.560963 615.222398 L 215.422294 604.361881 L 216.314822 615.094825 L 217.240261 606.585307 L 218.200456 615.290538 L 219.197389 609.247996 L 220.233193 615.090312 L 220.8024 592.200009 L 221.3424 604.644545 L 221.7024 610.036664 L 222.0624 612.841222 L 222.2424 613.202406 L 222.4224 612.541321 L 222.7824 608.580712 L 223.3224 602.684068 L 223.5024 602.434147 L 223.6824 602.8297 L 224.0424 604.697041 L 225.3024 613.786713 L 225.4824 614.298886 L 225.6624 614.371168 L 225.8424 614.03559 L 226.2024 612.37472 L 226.7424 608.153643 L 228.0024 597.181065 L 228.3624 595.544019 L 228.5424 595.223332 L 228.7224 595.347381 L 228.9024 596.041443 L 229.2624 598.788267 L 230.7024 613.596302 L 230.8824 614.268921 L 231.2424 614.39071 L 232.3224 614.20595 L 233.4024 613.800006 L 233.5824 613.543421 L 233.9424 612.13733 L 234.4824 608.514541 L 235.5624 600.562913 L 235.9224 599.108531 L 236.1024 598.821216 L 236.2824 599.023233 L 236.6424 601.626438 L 237.3624 608.817346 L 237.5424 609.551949 L 237.7224 609.532721 L 238.0824 608.751768 L 238.6224 607.343148 L 238.8024 607.197607 L 238.9824 607.506982 L 239.3424 609.475731 L 240.0624 614.088231 L 240.2424 614.397606 L 240.4224 613.920813 L 240.7824 610.680155 L 242.0424 595.402402 L 242.2224 595.308478 L 242.4024 596.58614 L 242.7624 602.06084 L 243.3024 611.243201 L 243.4824 612.875238 L 243.6624 613.088556 L 243.8424 611.688572 L 244.2024 605.31712 L 245.1024 585.356166 L 245.2824 583.55295 L 245.4624 583.292017 L 245.6424 584.434365 L 246.0024 589.77327 L 247.2624 613.714921 L 247.4424 614.397606 L 247.6224 613.830939 L 247.9824 609.897606 L 248.7024 596.430942 L 249.2424 587.730943 L 249.4224 586.164277 L 249.6024 585.59761 L 249.7824 586.021699 L 250.1424 589.012218 L 250.6824 596.842892 L 251.5824 609.876139 L 251.9424 611.955024 L 252.1224 611.889594 L 252.4824 610.587991 L 253.2024 606.992537 L 253.3824 606.625236 L 253.5624 606.736078 L 253.9224 608.37102 L 254.8224 614.110966 L 255.0024 614.397606 L 255.3624 614.148255 L 255.9024 613.198806 L 256.4424 612.249356 L 256.8024 612.000006 L 256.9824 612.103028 L 257.3424 612.758622 L 258.0624 614.294584 L 258.2424 614.397606 L 258.4224 614.238141 L 258.7824 613.046893 L 259.1424 610.88027 L 259.8624 604.52194 L 261.4824 588.579469 L 262.0224 585.464973 L 262.3824 584.656666 L 262.5624 584.814156 L 262.7424 585.655295 L 263.1024 589.054115 L 263.8224 599.880664 L 264.5424 610.674787 L 264.9024 614.033075 L 265.0824 614.847869 L 265.2624 614.981739 L 265.4424 614.71942 L 265.8024 613.421125 L 266.3424 610.121529 L 267.6024 601.544314 L 267.9624 600.264643 L 268.1424 600.013964 L 268.3224 600.070388 L 268.5024 600.42359 L 268.8624 601.866405 L 269.4024 605.289662 L 270.6624 613.720867 L 271.0224 614.847079 L 271.2024 615.002406 L 271.3824 614.932771 L 271.7424 614.418914 L 272.2824 612.927769 L 274.4424 605.666541 L 274.8024 605.397607 L 274.9824 605.497502 L 275.3424 606.221618 L 275.8824 608.243373 L 277.3224 614.35383 L 277.6824 614.960874 L 277.8624 614.990305 L 278.0424 614.835542 L 278.4024 614.055028 L 278.9424 611.990286 L 280.9224 603.003075 L 281.2824 602.440289 L 281.4624 602.412515 L 281.6424 602.542098 L 282.0024 603.199468 L 282.5424 604.959479 L 283.6224 609.803498 L 284.3424 612.733502 L 284.8824 614.101809 L 285.2424 614.397606 L 285.6024 614.178011 L 285.9624 613.572495 L 286.5024 612.115401 L 287.5824 608.214237 L 288.4824 605.239757 L 289.0224 604.135027 L 289.3824 603.848315 L 289.7424 603.934618 L 290.2824 604.457199 L 291.9024 606.51197 L 292.2624 606.596386 L 292.6224 606.450654 L 293.1624 605.878077 L 293.8824 604.595604 L 294.9624 601.998354 L 296.5824 598.029591 L 297.3024 596.793281 L 297.8424 596.268081 L 298.2024 596.160008 L 298.5624 596.3068 L 298.9224 596.725002 L 299.4624 597.78844 L 300.1824 599.845856 L 301.2624 603.761842 L 303.0624 610.28405 L 303.7824 612.115291 L 304.3224 612.949727 L 304.6824 613.186988 L 306.1224 613.202406 L 307.7424 613.284109 L 308.6424 613.692567 L 310.8024 614.903344 L 311.5224 614.99631 L 312.0624 614.830635 L 312.7824 614.293496 L 313.5024 613.453459 L 314.5824 611.765108 L 316.2024 608.695317 L 318.1824 605.01869 L 319.2624 603.48905 L 319.9824 602.795515 L 320.5224 602.492015 L 321.0624 602.404999 L 321.6024 602.617664 L 322.1424 603.136139 L 322.8624 604.216589 L 323.7624 606.025644 L 327.3624 613.87393 L 328.0824 614.700503 L 328.6224 614.982609 L 328.9824 614.979202 L 329.3424 614.8021 L 329.8824 614.252346 L 330.6024 613.108402 L 331.6824 610.881418 L 333.1224 607.913166 L 333.8424 606.838805 L 334.3824 606.361533 L 334.7424 606.242416 L 335.2824 606.32323 L 336.0024 606.723854 L 336.7224 607.391944 L 337.8024 608.739349 L 340.8624 612.843518 L 341.5824 613.448937 L 342.3024 613.768321 L 342.8424 613.778291 L 343.3824 613.583612 L 344.1024 613.037691 L 344.8224 612.206403 L 345.7224 610.835607 L 346.9824 608.457283 L 349.3224 603.392519 L 351.1224 599.744516 L 352.2024 597.990507 L 353.1024 596.915375 L 353.8224 596.372539 L 354.3624 596.180473 L 354.9024 596.198239 L 355.4424 596.445022 L 356.1624 597.086943 L 357.0624 598.296343 L 358.1424 600.168848 L 361.9224 607.121117 L 362.8224 608.129467 L 363.5424 608.565312 L 364.0824 608.63366 L 364.8024 608.458288 L 365.5224 608.046926 L 366.4224 607.251642 L 367.5024 605.970981 L 368.9424 603.894393 L 372.5424 598.510431 L 373.6224 597.302017 L 374.5224 596.586417 L 375.2424 596.251552 L 375.9624 596.163112 L 376.6824 596.302084 L 377.5824 596.741479 L 378.4824 597.436698 L 379.5624 598.549251 L 381.0024 600.385202 L 383.3424 603.813341 L 385.6824 607.145656 L 387.1224 608.827383 L 388.2024 609.77664 L 389.1024 610.304595 L 389.8224 610.524378 L 390.5424 610.536856 L 391.2624 610.303569 L 391.9824 609.83899 L 392.8824 608.970123 L 393.9624 607.567674 L 395.2224 605.539289 L 397.0224 602.15696 L 401.1624 594.139756 L 402.6024 591.91846 L 403.6824 590.641796 L 404.5824 589.899102 L 405.3024 589.549438 L 406.0224 589.44322 L 406.7424 589.558075 L 407.6424 589.957115 L 408.5424 590.610671 L 409.6224 591.686635 L 410.8824 593.275457 L 412.5024 595.71322 L 415.0224 599.983631 L 417.9024 604.792474 L 419.5224 607.096058 L 420.7824 608.537703 L 421.8624 609.457699 L 422.7624 609.960256 L 423.6624 610.189183 L 424.5624 610.144943 L 425.6424 609.833875 L 426.7224 609.27832 L 427.9824 608.366874 L 429.4224 607.044625 L 431.4024 604.881466 L 437.8824 597.468388 L 439.3224 596.263376 L 440.5824 595.482489 L 441.6624 595.059627 L 442.5624 594.907202 L 443.6424 594.958523 L 444.9024 595.252225 L 446.1624 595.769587 L 447.6024 596.600869 L 449.2224 597.794985 L 451.2024 599.547769 L 453.9024 602.282835 L 460.3824 609.01087 L 462.3624 610.701731 L 463.9824 611.828838 L 465.4224 612.588209 L 466.6824 613.033115 L 467.9424 613.245464 L 469.0224 613.221466 L 470.1024 612.999593 L 471.3624 612.508451 L 472.6224 611.788954 L 474.0624 610.716421 L 475.6824 609.231602 L 477.6624 607.085297 L 480.0024 604.19313 L 483.4224 599.563943 L 488.4624 592.74989 L 490.8024 589.945188 L 492.7824 587.902497 L 494.4024 586.522638 L 495.8424 585.558653 L 497.1024 584.945908 L 498.3624 584.572509 L 499.4424 584.460305 L 500.8824 584.571176 L 502.3224 584.908404 L 503.9424 585.529092 L 505.7424 586.479311 L 507.7224 587.788536 L 510.0624 589.611511 L 513.3024 592.45013 L 519.9624 598.377495 L 522.4824 600.277275 L 524.4624 601.507917 L 526.2624 602.370567 L 527.8824 602.899306 L 529.3224 603.144356 L 530.7624 603.167289 L 532.7424 602.986469 L 534.9024 602.572654 L 537.4224 601.854597 L 540.4824 600.726725 L 544.8024 598.858791 L 551.1024 596.142746 L 554.1624 595.078028 L 556.6824 594.433194 L 558.8424 594.097392 L 560.8224 594.000381 L 562.9824 594.125752 L 565.3224 594.498987 L 567.6624 595.094011 L 570.3624 596.02249 L 573.2424 597.255865 L 576.4824 598.884582 L 580.6224 601.232187 L 588.3624 605.956819 L 593.5824 609.002128 L 597.1824 610.859772 L 600.2424 612.201875 L 602.9424 613.156482 L 605.4624 613.816713 L 607.8024 614.201471 L 609.9624 614.338604 L 612.8424 614.252991 L 615.9024 613.948674 L 619.3224 613.378296 L 622.9224 612.550926 L 627.0624 611.361649 L 631.9224 609.717973 L 638.4024 607.269491 L 650.8224 602.535461 L 655.6824 600.947218 L 659.8224 599.823049 L 663.4224 599.065671 L 666.8424 598.57331 L 669.9024 598.348317 L 673.1424 598.342354 L 677.1024 598.550967 L 681.4224 599.005193 L 686.1024 599.728604 L 691.3224 600.771448 L 697.2624 602.192424 L 705.0024 604.287879 L 723.7224 609.451544 L 729.6624 610.809162 L 734.8824 611.777149 L 739.5624 612.418194 L 743.8824 612.78359 L 747.8424 612.899981 L 750.7224 612.787481 L 753.6024 612.448676 L 756.6624 611.854405 L 759.7224 611.033145 L 762.9624 609.932487 L 766.3824 608.531735 L 769.9824 606.814294 L 773.9424 604.666766 L 778.2624 602.062298 L 783.3024 598.751965 L 789.6024 594.333088 L 808.6824 580.764988 L 814.0824 577.317156 L 819.1224 574.360832 L 823.8024 571.871026 L 828.1224 569.814126 L 832.2624 568.079877 L 836.2224 566.654827 L 840.1824 565.464681 L 844.3224 564.458286 L 848.4624 563.678942 L 852.7824 563.090136 L 857.2824 562.7008 L 861.9624 562.516132 L 867.0024 562.54235 L 872.2224 562.796405 L 877.6224 563.289423 L 883.2024 564.030966 L 888.9624 565.028609 L 894.9024 566.28771 L 901.2024 567.856713 L 908.4024 569.886785 L 917.7624 572.772752 L 942.2424 580.434809 L 974.1024 590.040153 L 998.5824 597.747588 L 1006.6824 600.013174 L 1014.0624 601.845342 L 1021.0824 603.360583 L 1027.7424 604.576821 L 1034.2224 605.538866 L 1040.5224 606.251686 L 1046.8224 606.73984 L 1053.6624 607.042597 L 1061.2224 607.146726 L 1069.5024 607.035114 L 1077.4224 606.707466 L 1084.9824 606.169671 L 1092.1824 605.432628 L 1099.7424 604.426661 L 1109.1024 602.945423 L 1141.1424 597.670755 L 1148.5224 596.797839 L 1155.0024 596.249343 L 1160.9424 595.965419 L 1161.792 595.944008 L 1161.792 595.944008 " clip-path="url(#p6aef6e5579)" style="fill: none; stroke: #1f77b4; stroke-width: 1.5; stroke-linecap: square"/>
</g>
<g id="patch_8">
<path d="M 162.36 616.68 L 162.36 424.44" style="fill: none; stroke: #000000; stroke-width: 0.8; stroke-linejoin: miter; stroke-linecap: square"/>
</g>
<g id="patch_9">
<path d="M 1166.76 616.68 L 1166.76 424.44" style="fill: none; stroke: #000000; stroke-width: 0.8; stroke-linejoin: miter; stroke-linecap: square"/>
</g>
<g id="patch_10">
<path d="M 162.36 616.68 L 1166.76 616.68" style="fill: none; stroke: #000000; stroke-width: 0.8; stroke-linejoin: miter; stroke-linecap: square"/>
</g>
<g id="patch_11">
<path d="M 162.36 424.44 L 1166.76 424.44" style="fill: none; stroke: #000000; stroke-width: 0.8; stroke-linejoin: miter; stroke-linecap: square"/>
</g>
<g id="text_23">
<g transform="translate(0 1.008)"><text style="font-size: 24px; font-family: 'DejaVu Sans', sans-serif; text-anchor: start" x="664.2" y="442.427019" transform="rotate(-0 664.2 442.427019)">Period: 5.208 h</text></g>
</g>
</g>
<g id="axes_3">
<g id="patch_12">
<path d="M 162 884.769231 L 1166.4 884.769231 L 1166.4 692.861538 L 162 692.861538 z
" style="fill: #ffffff"/>
</g>
<g id="matplotlib.axis_5">
<g id="xtick_13">
<g id="line2d_21">
<g>
<use href="#m4935d6132a" x="167.4" y="885.24" style="stroke: #000000; stroke-width: 0.8"/>
</g>
</g>
<g id="text_24">
<g transform="translate(0 0.576)"><text style="font-size: 24px; font-family: 'DejaVu Sans', sans-serif; text-anchor: middle" x="166.824" y="910.005481" transform="rotate(-0 166.824 910.005481)">0</text></g>
</g>
</g>
<g id="xtick_14">
<g id="line2d_22">
<g>
<use href="#m4935d6132a" x="358.2" y="885.24" style="stroke: #000000; stroke-width: 0.8"/>
</g>
</g>
<g id="text_25">
<g transform="translate(0 0.576)"><text style="font-size: 24px; font-family: 'DejaVu Sans', sans-serif; text-anchor: middle" x="357.768" y="910.005481" transform="rotate(-0 357.768 910.005481)">1</text></g>
</g>
</g>
<g id="xtick_15">
<g id="line2d_23">
<g>
<use href="#m4935d6132a" x="549" y="885.24" style="stroke: #000000; stroke-width: 0.8"/>
</g>
</g>
<g id="text_26">
<g transform="translate(0 0.576)"><text style="font-size: 24px; font-family: 'DejaVu Sans', sans-serif; text-anchor: middle" x="548.712" y="910.005481" transform="rotate(-0 548.712 910.005481)">2</text></g>
</g>
</g>
<g id="xtick_16">
<g id="line2d_24">
<g>
<use href="#m4935d6132a" x="739.8" y="885.24" style="stroke: #000000; stroke-width: 0.8"/>
</g>
</g>
<g id="text_27">
<g transform="translate(0 0.576)"><text style="font-size: 24px; font-family: 'DejaVu Sans', sans-serif; text-anchor: middle" x="739.656" y="910.005481" transform="rotate(-0 739.656 910.005481)">3</text></g>
</g>
</g>
<g id="xtick_17">
<g id="line2d_25">
<g>
<use href="#m4935d6132a" x="931.32" y="885.24" style="stroke: #000000; stroke-width: 0.8"/>
</g>
</g>
<g id="text_28">
<g transform="translate(0 0.576)"><text style="font-size: 24px; font-family: 'DejaVu Sans', sans-serif; text-anchor: middle" x="930.6" y="910.005481" transform="rotate(-0 930.6 910.005481)">4</text></g>
</g>
</g>
<g id="xtick_18">
<g id="line2d_26">
<g>
<use href="#m4935d6132a" x="1122.12" y="885.24" style="stroke: #000000; stroke-width: 0.8"/>
</g>
</g>
<g id="text_29">
<g transform="translate(0 0.576)"><text style="font-size: 24px; font-family: 'DejaVu Sans', sans-serif; text-anchor: middle" x="1121.544" y="910.005481" transform="rotate(-0 1121.544 910.005481)">5</text></g>
</g>
</g>
<g id="text_30">
<g transform="translate(0 0.648)"><text style="font-size: 24px; font-family: 'DejaVu Sans', sans-serif; text-anchor: middle" x="664.2" y="937.232981" transform="rotate(-0 664.2 937.232981)">Phase (hours)</text></g>
</g>
</g>
<g id="matplotlib.axis_6">
<g id="ytick_6">
<g id="line2d_27">
<g>
<use href="#me6e466fa30" x="162.36" y="870.12" style="stroke: #000000; stroke-width: 0.8"/>
</g>
</g>
<g id="text_31">
<text style="font-size: 24px; font-family: 'DejaVu Sans', sans-serif; text-anchor: end" x="155" y="879.027638" transform="rotate(-0 155 879.027638)">14.5</text>
</g>
</g>
<g id="ytick_7">
<g id="line2d_28">
<g>
<use href="#me6e466fa30" x="162.36" y="755.64" style="stroke: #000000; stroke-width: 0.8"/>
</g>
</g>
<g id="text_32">
<text style="font-size: 24px; font-family: 'DejaVu Sans', sans-serif; text-anchor: end" x="155" y="764.115654" transform="rotate(-0 155 764.115654)">15.0</text>
</g>
</g>
<g id="text_33">
<g transform="translate(-1.44 1.08)"><text style="font-size: 24px; font-family: 'DejaVu Sans', sans-serif; text-anchor: middle" x="92.57125" y="788.815385" transform="rotate(-90 92.57125 788.815385)">H (mag)</text></g>
</g>
</g>
<g id="LineCollection_3">
<path d="M 181.44 856.08 L 181.44 801.36" clip-path="url(#p42164345dd)" style="fill: none; stroke: #117733; stroke-width: 1.5"/>
<path d="M 199.44 830.88 L 199.44 780.48" clip-path="url(#p42164345dd)" style="fill: none; stroke: #117733; stroke-width: 1.5"/>
<path d="M 202.32 820.08 L 202.32 786.24" clip-path="url(#p42164345dd)" style="fill: none; stroke: #117733; stroke-width: 1.5"/>
<path d="M 232.56 827.28 L 232.56 786.24" clip-path="url(#p42164345dd)" style="fill: none; stroke: #117733; stroke-width: 1.5"/>
<path d="M 264.24 830.88 L 264.24 791.28" clip-path="url(#p42164345dd)" style="fill: none; stroke: #117733; stroke-width: 1.5"/>
<path d="M 276.48 842.4 L 276.48 795.6" clip-path="url(#p42164345dd)" style="fill: none; stroke: #117733; stroke-width: 1.5"/>
<path d="M 297.36 817.2 L 297.36 777.6" clip-path="url(#p42164345dd)" style="fill: none; stroke: #117733; stroke-width: 1.5"/>
<path d="M 299.52 803.52 L 299.52 774" clip-path="url(#p42164345dd)" style="fill: none; stroke: #117733; stroke-width: 1.5"/>
<path d="M 302.4 815.04 L 302.4 790.56" clip-path="url(#p42164345dd)" style="fill: none; stroke: #117733; stroke-width: 1.5"/>
<path d="M 312.48 803.52 L 312.48 771.84" clip-path="url(#p42164345dd)" style="fill: none; stroke: #117733; stroke-width: 1.5"/>
<path d="M 372.24 825.84 L 372.24 769.68" clip-path="url(#p42164345dd)" style="fill: none; stroke: #117733; stroke-width: 1.5"/>
<path d="M 378 846 L 378 773.28" clip-path="url(#p42164345dd)" style="fill: none; stroke: #117733; stroke-width: 1.5"/>
<path d="M 381.6 804.96 L 381.6 776.16" clip-path="url(#p42164345dd)" style="fill: none; stroke: #117733; stroke-width: 1.5"/>
<path d="M 416.88 741.6 L 416.88 712.08" clip-path="url(#p42164345dd)" style="fill: none; stroke: #117733; stroke-width: 1.5"/>
<path d="M 423.36 819.36 L 423.36 760.32" clip-path="url(#p42164345dd)" style="fill: none; stroke: #117733; stroke-width: 1.5"/>
<path d="M 495.36 797.04 L 495.36 748.8" clip-path="url(#p42164345dd)" style="fill: none; stroke: #117733; stroke-width: 1.5"/>
<path d="M 501.12 805.68 L 501.12 737.28" clip-path="url(#p42164345dd)" style="fill: none; stroke: #117733; stroke-width: 1.5"/>
<path d="M 529.2 826.56 L 529.2 745.2" clip-path="url(#p42164345dd)" style="fill: none; stroke: #117733; stroke-width: 1.5"/>
<path d="M 635.76 789.12 L 635.76 741.6" clip-path="url(#p42164345dd)" style="fill: none; stroke: #117733; stroke-width: 1.5"/>
<path d="M 631.44 867.6 L 631.44 786.24" clip-path="url(#p42164345dd)" style="fill: none; stroke: #117733; stroke-width: 1.5"/>
<path d="M 639.36 824.4 L 639.36 784.08" clip-path="url(#p42164345dd)" style="fill: none; stroke: #117733; stroke-width: 1.5"/>
<path d="M 644.4 883.44 L 644.4 820.08" clip-path="url(#p42164345dd)" style="fill: none; stroke: #117733; stroke-width: 1.5"/>
<path d="M 652.32 817.92 L 652.32 774.72" clip-path="url(#p42164345dd)" style="fill: none; stroke: #117733; stroke-width: 1.5"/>
<path d="M 666 834.48 L 666 800.64" clip-path="url(#p42164345dd)" style="fill: none; stroke: #117733; stroke-width: 1.5"/>
<path d="M 702.72 808.56 L 702.72 786.96" clip-path="url(#p42164345dd)" style="fill: none; stroke: #117733; stroke-width: 1.5"/>
<path d="M 771.12 818.64 L 771.12 769.68" clip-path="url(#p42164345dd)" style="fill: none; stroke: #117733; stroke-width: 1.5"/>
<path d="M 770.4 827.28 L 770.4 794.88" clip-path="url(#p42164345dd)" style="fill: none; stroke: #117733; stroke-width: 1.5"/>
<path d="M 776.88 825.84 L 776.88 761.04" clip-path="url(#p42164345dd)" style="fill: none; stroke: #117733; stroke-width: 1.5"/>
<path d="M 790.56 810 L 790.56 765.36" clip-path="url(#p42164345dd)" style="fill: none; stroke: #117733; stroke-width: 1.5"/>
<path d="M 797.04 834.48 L 797.04 776.16" clip-path="url(#p42164345dd)" style="fill: none; stroke: #117733; stroke-width: 1.5"/>
<path d="M 804.96 792 L 804.96 753.12" clip-path="url(#p42164345dd)" style="fill: none; stroke: #117733; stroke-width: 1.5"/>
<path d="M 857.52 777.6 L 857.52 733.68" clip-path="url(#p42164345dd)" style="fill: none; stroke: #117733; stroke-width: 1.5"/>
<path d="M 873.36 818.64 L 873.36 763.2" clip-path="url(#p42164345dd)" style="fill: none; stroke: #117733; stroke-width: 1.5"/>
<path d="M 882.72 803.52 L 882.72 757.44" clip-path="url(#p42164345dd)" style="fill: none; stroke: #117733; stroke-width: 1.5"/>
<path d="M 920.88 782.64 L 920.88 753.84" clip-path="url(#p42164345dd)" style="fill: none; stroke: #117733; stroke-width: 1.5"/>
<path d="M 974.16 771.84 L 974.16 720" clip-path="url(#p42164345dd)" style="fill: none; stroke: #117733; stroke-width: 1.5"/>
<path d="M 1021.68 757.44 L 1021.68 700.56" clip-path="url(#p42164345dd)" style="fill: none; stroke: #117733; stroke-width: 1.5"/>
<path d="M 1022.4 788.4 L 1022.4 729.36" clip-path="url(#p42164345dd)" style="fill: none; stroke: #117733; stroke-width: 1.5"/>
<path d="M 1025.28 780.48 L 1025.28 738" clip-path="url(#p42164345dd)" style="fill: none; stroke: #117733; stroke-width: 1.5"/>
<path d="M 1027.44 789.84 L 1027.44 743.04" clip-path="url(#p42164345dd)" style="fill: none; stroke: #117733; stroke-width: 1.5"/>
</g>
<g id="LineCollection_4">
<path d="M 198 832.32 L 198 805.68" clip-path="url(#p42164345dd)" style="fill: none; stroke: #882255; stroke-width: 1.5"/>
<path d="M 228.96 821.52 L 228.96 802.08" clip-path="url(#p42164345dd)" style="fill: none; stroke: #882255; stroke-width: 1.5"/>
<path d="M 244.08 791.28 L 244.08 773.28" clip-path="url(#p42164345dd)" style="fill: none; stroke: #882255; stroke-width: 1.5"/>
<path d="M 256.32 814.32 L 256.32 789.84" clip-path="url(#p42164345dd)" style="fill: none; stroke: #882255; stroke-width: 1.5"/>
<path d="M 257.76 821.52 L 257.76 802.08" clip-path="url(#p42164345dd)" style="fill: none; stroke: #882255; stroke-width: 1.5"/>
<path d="M 306 822.24 L 306 789.84" clip-path="url(#p42164345dd)" style="fill: none; stroke: #882255; stroke-width: 1.5"/>
<path d="M 308.16 822.24 L 308.16 799.2" clip-path="url(#p42164345dd)" style="fill: none; stroke: #882255; stroke-width: 1.5"/>
<path d="M 312.48 826.56 L 312.48 795.6" clip-path="url(#p42164345dd)" style="fill: none; stroke: #882255; stroke-width: 1.5"/>
<path d="M 360.72 799.2 L 360.72 774" clip-path="url(#p42164345dd)" style="fill: none; stroke: #882255; stroke-width: 1.5"/>
<path d="M 360 813.6 L 360 781.2" clip-path="url(#p42164345dd)" style="fill: none; stroke: #882255; stroke-width: 1.5"/>
<path d="M 396.72 776.88 L 396.72 754.56" clip-path="url(#p42164345dd)" style="fill: none; stroke: #882255; stroke-width: 1.5"/>
<path d="M 398.16 811.44 L 398.16 763.92" clip-path="url(#p42164345dd)" style="fill: none; stroke: #882255; stroke-width: 1.5"/>
<path d="M 416.16 827.28 L 416.16 774" clip-path="url(#p42164345dd)" style="fill: none; stroke: #882255; stroke-width: 1.5"/>
<path d="M 419.04 818.64 L 419.04 771.84" clip-path="url(#p42164345dd)" style="fill: none; stroke: #882255; stroke-width: 1.5"/>
<path d="M 419.76 800.64 L 419.76 776.16" clip-path="url(#p42164345dd)" style="fill: none; stroke: #882255; stroke-width: 1.5"/>
<path d="M 457.92 795.6 L 457.92 761.04" clip-path="url(#p42164345dd)" style="fill: none; stroke: #882255; stroke-width: 1.5"/>
<path d="M 459.36 836.64 L 459.36 776.16" clip-path="url(#p42164345dd)" style="fill: none; stroke: #882255; stroke-width: 1.5"/>
<path d="M 463.68 773.28 L 463.68 751.68" clip-path="url(#p42164345dd)" style="fill: none; stroke: #882255; stroke-width: 1.5"/>
<path d="M 471.6 800.64 L 471.6 763.2" clip-path="url(#p42164345dd)" style="fill: none; stroke: #882255; stroke-width: 1.5"/>
<path d="M 473.76 760.32 L 473.76 729.36" clip-path="url(#p42164345dd)" style="fill: none; stroke: #882255; stroke-width: 1.5"/>
<path d="M 480.96 738.72 L 480.96 698.4" clip-path="url(#p42164345dd)" style="fill: none; stroke: #882255; stroke-width: 1.5"/>
<path d="M 495.36 735.12 L 495.36 701.28" clip-path="url(#p42164345dd)" style="fill: none; stroke: #882255; stroke-width: 1.5"/>
<path d="M 523.44 797.04 L 523.44 756" clip-path="url(#p42164345dd)" style="fill: none; stroke: #882255; stroke-width: 1.5"/>
<path d="M 542.88 810.72 L 542.88 722.88" clip-path="url(#p42164345dd)" style="fill: none; stroke: #882255; stroke-width: 1.5"/>
<path d="M 573.12 825.84 L 573.12 774" clip-path="url(#p42164345dd)" style="fill: none; stroke: #882255; stroke-width: 1.5"/>
<path d="M 594.72 791.28 L 594.72 767.52" clip-path="url(#p42164345dd)" style="fill: none; stroke: #882255; stroke-width: 1.5"/>
<path d="M 597.6 811.44 L 597.6 750.96" clip-path="url(#p42164345dd)" style="fill: none; stroke: #882255; stroke-width: 1.5"/>
<path d="M 632.88 843.84 L 632.88 814.32" clip-path="url(#p42164345dd)" style="fill: none; stroke: #882255; stroke-width: 1.5"/>
<path d="M 659.52 840.24 L 659.52 782.64" clip-path="url(#p42164345dd)" style="fill: none; stroke: #882255; stroke-width: 1.5"/>
<path d="M 673.92 810.72 L 673.92 783.36" clip-path="url(#p42164345dd)" style="fill: none; stroke: #882255; stroke-width: 1.5"/>
<path d="M 675.36 810.72 L 675.36 786.24" clip-path="url(#p42164345dd)" style="fill: none; stroke: #882255; stroke-width: 1.5"/>
<path d="M 738 816.48 L 738 799.92" clip-path="url(#p42164345dd)" style="fill: none; stroke: #882255; stroke-width: 1.5"/>
<path d="M 754.56 815.04 L 754.56 791.28" clip-path="url(#p42164345dd)" style="fill: none; stroke: #882255; stroke-width: 1.5"/>
<path d="M 776.16 822.24 L 776.16 799.2" clip-path="url(#p42164345dd)" style="fill: none; stroke: #882255; stroke-width: 1.5"/>
<path d="M 798.48 799.92 L 798.48 781.2" clip-path="url(#p42164345dd)" style="fill: none; stroke: #882255; stroke-width: 1.5"/>
<path d="M 804.96 797.76 L 804.96 780.48" clip-path="url(#p42164345dd)" style="fill: none; stroke: #882255; stroke-width: 1.5"/>
<path d="M 833.76 804.24 L 833.76 781.2" clip-path="url(#p42164345dd)" style="fill: none; stroke: #882255; stroke-width: 1.5"/>
<path d="M 840.96 802.8 L 840.96 773.28" clip-path="url(#p42164345dd)" style="fill: none; stroke: #882255; stroke-width: 1.5"/>
<path d="M 846 767.52 L 846 747.36" clip-path="url(#p42164345dd)" style="fill: none; stroke: #882255; stroke-width: 1.5"/>
<path d="M 848.16 794.88 L 848.16 766.8" clip-path="url(#p42164345dd)" style="fill: none; stroke: #882255; stroke-width: 1.5"/>
<path d="M 880.56 789.84 L 880.56 753.12" clip-path="url(#p42164345dd)" style="fill: none; stroke: #882255; stroke-width: 1.5"/>
<path d="M 932.4 766.8 L 932.4 751.68" clip-path="url(#p42164345dd)" style="fill: none; stroke: #882255; stroke-width: 1.5"/>
<path d="M 937.44 796.32 L 937.44 764.64" clip-path="url(#p42164345dd)" style="fill: none; stroke: #882255; stroke-width: 1.5"/>
<path d="M 961.92 727.2 L 961.92 694.8" clip-path="url(#p42164345dd)" style="fill: none; stroke: #882255; stroke-width: 1.5"/>
<path d="M 1000.8 769.68 L 1000.8 746.64" clip-path="url(#p42164345dd)" style="fill: none; stroke: #882255; stroke-width: 1.5"/>
<path d="M 1015.92 795.6 L 1015.92 715.68" clip-path="url(#p42164345dd)" style="fill: none; stroke: #882255; stroke-width: 1.5"/>
<path d="M 1023.12 803.52 L 1023.12 776.88" clip-path="url(#p42164345dd)" style="fill: none; stroke: #882255; stroke-width: 1.5"/>
<path d="M 1037.52 751.68 L 1037.52 713.52" clip-path="url(#p42164345dd)" style="fill: none; stroke: #882255; stroke-width: 1.5"/>
<path d="M 1040.4 775.44 L 1040.4 717.12" clip-path="url(#p42164345dd)" style="fill: none; stroke: #882255; stroke-width: 1.5"/>
<path d="M 1051.2 807.84 L 1051.2 756" clip-path="url(#p42164345dd)" style="fill: none; stroke: #882255; stroke-width: 1.5"/>
<path d="M 1048.32 820.08 L 1048.32 786.24" clip-path="url(#p42164345dd)" style="fill: none; stroke: #882255; stroke-width: 1.5"/>
<path d="M 1103.04 817.92 L 1103.04 789.84" clip-path="url(#p42164345dd)" style="fill: none; stroke: #882255; stroke-width: 1.5"/>
<path d="M 1156.32 803.52 L 1156.32 784.8" clip-path="url(#p42164345dd)" style="fill: none; stroke: #882255; stroke-width: 1.5"/>
</g>
<g id="line2d_29">
<path d="M 166.824 804.497524 L 174.795434 806.009886 L 182.766867 807.321022 L 190.738301 808.417582 L 198.709735 809.288399 L 206.681168 809.924599 L 214.652602 810.319691 L 222.624036 810.469635 L 230.595469 810.372882 L 238.566903 810.030389 L 246.538337 809.44561 L 254.509771 808.624463 L 262.481204 807.575266 L 270.452638 806.308656 L 278.424072 804.837479 L 286.395505 803.176662 L 296.359797 800.859806 L 306.324089 798.309831 L 318.28124 794.999299 L 332.231249 790.887617 L 382.052709 775.931068 L 394.00986 772.72681 L 403.974152 770.288339 L 413.938444 768.102096 L 421.909878 766.55824 L 429.881312 765.213916 L 437.852745 764.082855 L 445.824179 763.176626 L 453.795613 762.50452 L 461.767046 762.073459 L 469.73848 761.887923 L 477.709914 761.949902 L 485.681347 762.258881 L 493.652781 762.811839 L 501.624215 763.603284 L 509.595648 764.625306 L 517.567082 765.867659 L 525.538516 767.317862 L 533.509949 768.961325 L 543.474242 771.262042 L 553.438534 773.80253 L 565.395684 777.11105 L 579.345693 781.233966 L 603.259994 788.604974 L 621.19572 794.043273 L 633.15287 797.470963 L 643.117163 800.139798 L 653.081455 802.593048 L 663.045747 804.792008 L 671.01718 806.344629 L 678.988614 807.696538 L 686.960048 808.834085 L 694.931482 809.745788 L 702.902915 810.42245 L 710.874349 810.857252 L 718.845783 811.04582 L 726.817216 810.986273 L 734.78865 810.679239 L 742.760084 810.127848 L 750.731517 809.337705 L 758.702951 808.316827 L 766.674385 807.075565 L 774.645818 805.6265 L 782.617252 803.984313 L 792.581544 801.685512 L 802.545836 799.147433 L 814.502987 795.842623 L 828.452996 791.725356 L 854.360155 783.754197 L 872.295881 778.358491 L 884.253032 774.977079 L 894.217324 772.356904 L 904.181616 769.960665 L 914.145908 767.826126 L 922.117341 766.329663 L 930.088775 765.037365 L 938.060209 763.962235 L 946.031643 763.11507 L 954.003076 762.504352 L 961.97451 762.136166 L 969.945944 762.014136 L 977.917377 762.139387 L 985.888811 762.510537 L 993.860245 763.12371 L 1001.831678 763.972575 L 1009.803112 765.048413 L 1017.774546 766.3402 L 1025.745979 767.834726 L 1035.710271 769.964546 L 1045.674564 772.353208 L 1055.638856 774.962674 L 1067.596006 778.32681 L 1083.538874 783.079908 L 1121.403184 794.518406 L 1133.360334 797.858412 L 1143.324626 800.441754 L 1153.288918 802.799329 L 1161.260352 804.497524 L 1161.260352 804.497524 " clip-path="url(#p42164345dd)" style="fill: none; stroke: #1f77b4; stroke-width: 1.5; stroke-linecap: square"/>
</g>
<g id="line2d_30">
<g clip-path="url(#p42164345dd)">
<use href="#m12f4fc1c12" x="181.8" y="829.08" style="fill: #117733"/>
<use href="#m12f4fc1c12" x="199.8" y="806.04" style="fill: #117733"/>
<use href="#m12f4fc1c12" x="202.68" y="803.16" style="fill: #117733"/>
<use href="#m12f4fc1c12" x="232.92" y="806.76" style="fill: #117733"/>
<use href="#m12f4fc1c12" x="264.6" y="811.08" style="fill: #117733"/>
<use href="#m12f4fc1c12" x="276.84" y="819" style="fill: #117733"/>
<use href="#m12f4fc1c12" x="297.72" y="797.4" style="fill: #117733"/>
<use href="#m12f4fc1c12" x="299.88" y="788.76" style="fill: #117733"/>
<use href="#m12f4fc1c12" x="302.76" y="803.16" style="fill: #117733"/>
<use href="#m12f4fc1c12" x="312.84" y="788.04" style="fill: #117733"/>
<use href="#m12f4fc1c12" x="372.6" y="798.12" style="fill: #117733"/>
<use href="#m12f4fc1c12" x="378.36" y="809.64" style="fill: #117733"/>
<use href="#m12f4fc1c12" x="381.96" y="790.92" style="fill: #117733"/>
<use href="#m12f4fc1c12" x="417.24" y="726.84" style="fill: #117733"/>
<use href="#m12f4fc1c12" x="423.72" y="790.2" style="fill: #117733"/>
<use href="#m12f4fc1c12" x="495.72" y="772.92" style="fill: #117733"/>
<use href="#m12f4fc1c12" x="501.48" y="771.48" style="fill: #117733"/>
<use href="#m12f4fc1c12" x="529.56" y="785.88" style="fill: #117733"/>
<use href="#m12f4fc1c12" x="636.12" y="765.72" style="fill: #117733"/>
<use href="#m12f4fc1c12" x="631.8" y="826.92" style="fill: #117733"/>
<use href="#m12f4fc1c12" x="639.72" y="804.6" style="fill: #117733"/>
<use href="#m12f4fc1c12" x="644.76" y="852.12" style="fill: #117733"/>
<use href="#m12f4fc1c12" x="652.68" y="796.68" style="fill: #117733"/>
<use href="#m12f4fc1c12" x="666.36" y="817.56" style="fill: #117733"/>
<use href="#m12f4fc1c12" x="703.08" y="798.12" style="fill: #117733"/>
<use href="#m12f4fc1c12" x="771.48" y="794.52" style="fill: #117733"/>
<use href="#m12f4fc1c12" x="770.76" y="811.08" style="fill: #117733"/>
<use href="#m12f4fc1c12" x="777.24" y="793.8" style="fill: #117733"/>
<use href="#m12f4fc1c12" x="790.92" y="788.04" style="fill: #117733"/>
<use href="#m12f4fc1c12" x="797.4" y="805.32" style="fill: #117733"/>
<use href="#m12f4fc1c12" x="805.32" y="772.92" style="fill: #117733"/>
<use href="#m12f4fc1c12" x="857.88" y="755.64" style="fill: #117733"/>
<use href="#m12f4fc1c12" x="873.72" y="790.92" style="fill: #117733"/>
<use href="#m12f4fc1c12" x="883.08" y="780.84" style="fill: #117733"/>
<use href="#m12f4fc1c12" x="921.24" y="768.6" style="fill: #117733"/>
<use href="#m12f4fc1c12" x="974.52" y="746.28" style="fill: #117733"/>
<use href="#m12f4fc1c12" x="1022.04" y="729" style="fill: #117733"/>
<use href="#m12f4fc1c12" x="1022.76" y="759.24" style="fill: #117733"/>
<use href="#m12f4fc1c12" x="1025.64" y="759.24" style="fill: #117733"/>
<use href="#m12f4fc1c12" x="1027.8" y="766.44" style="fill: #117733"/>
</g>
</g>
<g id="line2d_31">
<g clip-path="url(#p42164345dd)">
<use href="#m32cfd63de9" x="198.36" y="819" style="fill: #882255"/>
<use href="#m32cfd63de9" x="229.32" y="811.8" style="fill: #882255"/>
<use href="#m32cfd63de9" x="244.44" y="783" style="fill: #882255"/>
<use href="#m32cfd63de9" x="256.68" y="802.44" style="fill: #882255"/>
<use href="#m32cfd63de9" x="258.12" y="811.8" style="fill: #882255"/>
<use href="#m32cfd63de9" x="306.36" y="806.76" style="fill: #882255"/>
<use href="#m32cfd63de9" x="308.52" y="811.08" style="fill: #882255"/>
<use href="#m32cfd63de9" x="312.84" y="811.08" style="fill: #882255"/>
<use href="#m32cfd63de9" x="361.08" y="786.6" style="fill: #882255"/>
<use href="#m32cfd63de9" x="360.36" y="797.4" style="fill: #882255"/>
<use href="#m32cfd63de9" x="397.08" y="765.72" style="fill: #882255"/>
<use href="#m32cfd63de9" x="398.52" y="788.04" style="fill: #882255"/>
<use href="#m32cfd63de9" x="416.52" y="801" style="fill: #882255"/>
<use href="#m32cfd63de9" x="419.4" y="795.24" style="fill: #882255"/>
<use href="#m32cfd63de9" x="420.12" y="788.76" style="fill: #882255"/>
<use href="#m32cfd63de9" x="458.28" y="778.68" style="fill: #882255"/>
<use href="#m32cfd63de9" x="459.72" y="806.76" style="fill: #882255"/>
<use href="#m32cfd63de9" x="464.04" y="762.84" style="fill: #882255"/>
<use href="#m32cfd63de9" x="471.96" y="782.28" style="fill: #882255"/>
<use href="#m32cfd63de9" x="474.12" y="744.84" style="fill: #882255"/>
<use href="#m32cfd63de9" x="481.32" y="718.92" style="fill: #882255"/>
<use href="#m32cfd63de9" x="495.72" y="718.2" style="fill: #882255"/>
<use href="#m32cfd63de9" x="523.8" y="776.52" style="fill: #882255"/>
<use href="#m32cfd63de9" x="543.24" y="767.16" style="fill: #882255"/>
<use href="#m32cfd63de9" x="573.48" y="800.28" style="fill: #882255"/>
<use href="#m32cfd63de9" x="595.08" y="779.4" style="fill: #882255"/>
<use href="#m32cfd63de9" x="597.96" y="781.56" style="fill: #882255"/>
<use href="#m32cfd63de9" x="633.24" y="829.08" style="fill: #882255"/>
<use href="#m32cfd63de9" x="659.88" y="811.8" style="fill: #882255"/>
<use href="#m32cfd63de9" x="674.28" y="797.4" style="fill: #882255"/>
<use href="#m32cfd63de9" x="675.72" y="798.84" style="fill: #882255"/>
<use href="#m32cfd63de9" x="738.36" y="808.2" style="fill: #882255"/>
<use href="#m32cfd63de9" x="754.92" y="803.16" style="fill: #882255"/>
<use href="#m32cfd63de9" x="776.52" y="811.08" style="fill: #882255"/>
<use href="#m32cfd63de9" x="798.84" y="790.92" style="fill: #882255"/>
<use href="#m32cfd63de9" x="805.32" y="789.48" style="fill: #882255"/>
<use href="#m32cfd63de9" x="834.12" y="793.08" style="fill: #882255"/>
<use href="#m32cfd63de9" x="841.32" y="788.04" style="fill: #882255"/>
<use href="#m32cfd63de9" x="846.36" y="757.8" style="fill: #882255"/>
<use href="#m32cfd63de9" x="848.52" y="780.84" style="fill: #882255"/>
<use href="#m32cfd63de9" x="880.92" y="771.48" style="fill: #882255"/>
<use href="#m32cfd63de9" x="932.76" y="759.24" style="fill: #882255"/>
<use href="#m32cfd63de9" x="937.8" y="780.84" style="fill: #882255"/>
<use href="#m32cfd63de9" x="962.28" y="711" style="fill: #882255"/>
<use href="#m32cfd63de9" x="1001.16" y="758.52" style="fill: #882255"/>
<use href="#m32cfd63de9" x="1016.28" y="755.64" style="fill: #882255"/>
<use href="#m32cfd63de9" x="1023.48" y="790.2" style="fill: #882255"/>
<use href="#m32cfd63de9" x="1037.88" y="732.6" style="fill: #882255"/>
<use href="#m32cfd63de9" x="1040.76" y="746.28" style="fill: #882255"/>
<use href="#m32cfd63de9" x="1051.56" y="782.28" style="fill: #882255"/>
<use href="#m32cfd63de9" x="1048.68" y="803.16" style="fill: #882255"/>
<use href="#m32cfd63de9" x="1103.4" y="803.88" style="fill: #882255"/>
<use href="#m32cfd63de9" x="1156.68" y="794.52" style="fill: #882255"/>
</g>
</g>
<g id="patch_13">
<path d="M 162.36 885.24 L 162.36 693" style="fill: none; stroke: #000000; stroke-width: 0.8; stroke-linejoin: miter; stroke-linecap: square"/>
</g>
<g id="patch_14">
<path d="M 1166.76 885.24 L 1166.76 693" style="fill: none; stroke: #000000; stroke-width: 0.8; stroke-linejoin: miter; stroke-linecap: square"/>
</g>
<g id="patch_15">
<path d="M 162.36 885.24 L 1166.76 885.24" style="fill: none; stroke: #000000; stroke-width: 0.8; stroke-linejoin: miter; stroke-linecap: square"/>
</g>
<g id="patch_16">
<path d="M 162.36 693 L 1166.76 693" style="fill: none; stroke: #000000; stroke-width: 0.8; stroke-linejoin: miter; stroke-linecap: square"/>
</g>
</g>
<g id="axes_4">
<g id="patch_17">
<path d="M 162 1153.44 L 1166.4 1153.44 L 1166.4 961.532308 L 162 961.532308 z
" style="fill: #ffffff"/>
</g>
<g id="matplotlib.axis_7">
<g id="xtick_19">
<g id="line2d_32">
<g>
<use href="#m4935d6132a" x="181.8" y="1153.8" style="stroke: #000000; stroke-width: 0.8"/>
</g>
</g>
<g id="text_34">
<g transform="translate(0 0.576)"><text style="font-size: 24px; font-family: 'DejaVu Sans', sans-serif; text-anchor: middle" x="181.584" y="1178.67625" transform="rotate(-0 181.584 1178.67625)">700</text></g>
</g>
</g>
<g id="xtick_20">
<g id="line2d_33">
<g>
<use href="#m4935d6132a" x="361.08" y="1153.8" style="stroke: #000000; stroke-width: 0.8"/>
</g>
</g>
<g id="text_35">
<g transform="translate(0 0.576)"><text style="font-size: 24px; font-family: 'DejaVu Sans', sans-serif; text-anchor: middle" x="360.576" y="1178.67625" transform="rotate(-0 360.576 1178.67625)">750</text></g>
</g>
</g>
<g id="xtick_21">
<g id="line2d_34">
<g>
<use href="#m4935d6132a" x="539.64" y="1153.8" style="stroke: #000000; stroke-width: 0.8"/>
</g>
</g>
<g id="text_36">
<g transform="translate(0 0.576)"><text style="font-size: 24px; font-family: 'DejaVu Sans', sans-serif; text-anchor: middle" x="539.568" y="1178.67625" transform="rotate(-0 539.568 1178.67625)">800</text></g>
</g>
</g>
<g id="xtick_22">
<g id="line2d_35">
<g>
<use href="#m4935d6132a" x="718.92" y="1153.8" style="stroke: #000000; stroke-width: 0.8"/>
</g>
</g>
<g id="text_37">
<g transform="translate(0 0.576)"><text style="font-size: 24px; font-family: 'DejaVu Sans', sans-serif; text-anchor: middle" x="718.56" y="1178.67625" transform="rotate(-0 718.56 1178.67625)">850</text></g>
</g>
</g>
<g id="xtick_23">
<g id="line2d_36">
<g>
<use href="#m4935d6132a" x="898.2" y="1153.8" style="stroke: #000000; stroke-width: 0.8"/>
</g>
</g>
<g id="text_38">
<g transform="translate(0 0.576)"><text style="font-size: 24px; font-family: 'DejaVu Sans', sans-serif; text-anchor: middle" x="897.552" y="1178.67625" transform="rotate(-0 897.552 1178.67625)">900</text></g>
</g>
</g>
<g id="xtick_24">
<g id="line2d_37">
<g>
<use href="#m4935d6132a" x="1076.76" y="1153.8" style="stroke: #000000; stroke-width: 0.8"/>
</g>
</g>
<g id="text_39">
<g transform="translate(0 0.576)"><text style="font-size: 24px; font-family: 'DejaVu Sans', sans-serif; text-anchor: middle" x="1076.544" y="1178.67625" transform="rotate(-0 1076.544 1178.67625)">950</text></g>
</g>
</g>
<g id="text_40">
<g transform="translate(0 0.936)"><text style="font-size: 24px; font-family: 'DejaVu Sans', sans-serif; text-anchor: middle" x="664.2" y="1205.90375" transform="rotate(-0 664.2 1205.90375)">Julian Date</text></g>
</g>
<g id="text_41">
<g transform="translate(0 1.08)"><text style="font-size: 24px; font-family: 'DejaVu Sans', sans-serif; text-anchor: end" x="1166.4" y="1204.90375" transform="rotate(-0 1166.4 1204.90375)">+2.4580000000e6</text></g>
</g>
</g>
<g id="matplotlib.axis_8">
<g id="ytick_8">
<g id="line2d_38">
<g>
<use href="#me6e466fa30" x="162.36" y="1119.96" style="stroke: #000000; stroke-width: 0.8"/>
</g>
</g>
<g id="text_42">
<text style="font-size: 24px; font-family: 'DejaVu Sans', sans-serif; text-anchor: end" x="155" y="1128.82613" transform="rotate(-0 155 1128.82613)">−0.25</text>
</g>
</g>
<g id="ytick_9">
<g id="line2d_39">
<g>
<use href="#me6e466fa30" x="162.36" y="1047.96" style="stroke: #000000; stroke-width: 0.8"/>
</g>
</g>
<g id="text_43">
<text style="font-size: 24px; font-family: 'DejaVu Sans', sans-serif; text-anchor: end" x="155" y="1057.00614" transform="rotate(-0 155 1057.00614)">0.00</text>
</g>
</g>
<g id="ytick_10">
<g id="line2d_40">
<g>
<use href="#me6e466fa30" x="162.36" y="976.68" style="stroke: #000000; stroke-width: 0.8"/>
</g>
</g>
<g id="text_44">
<text style="font-size: 24px; font-family: 'DejaVu Sans', sans-serif; text-anchor: end" x="155" y="985.186151" transform="rotate(-0 155 985.186151)">0.25</text>
</g>
</g>
<g id="text_45">
<g transform="translate(0.936 3.6)"><text style="font-size: 24px; font-family: 'DejaVu Sans', sans-serif; text-anchor: middle" x="72.46" y="1057.486154" transform="rotate(-90 72.46 1057.486154)">Residuals</text></g>
</g>
</g>
<g id="LineCollection_5">
<path d="M 177.84 1090.8 L 177.84 1017.36" clip-path="url(#peb3113d1ae)" style="fill: none; stroke: #117733; stroke-width: 1.5"/>
<path d="M 199.44 1087.92 L 199.44 1054.8" clip-path="url(#peb3113d1ae)" style="fill: none; stroke: #117733; stroke-width: 1.5"/>
<path d="M 199.44 1134 L 199.44 1044" clip-path="url(#peb3113d1ae)" style="fill: none; stroke: #117733; stroke-width: 1.5"/>
<path d="M 209.52 1108.8 L 209.52 1041.12" clip-path="url(#peb3113d1ae)" style="fill: none; stroke: #117733; stroke-width: 1.5"/>
<path d="M 234.72 1136.16 L 234.72 1033.92" clip-path="url(#peb3113d1ae)" style="fill: none; stroke: #117733; stroke-width: 1.5"/>
<path d="M 234.72 1152 L 234.72 1073.52" clip-path="url(#peb3113d1ae)" style="fill: none; stroke: #117733; stroke-width: 1.5"/>
<path d="M 281.52 1113.84 L 281.52 1041.12" clip-path="url(#peb3113d1ae)" style="fill: none; stroke: #117733; stroke-width: 1.5"/>
<path d="M 310.32 1093.68 L 310.32 1035.36" clip-path="url(#peb3113d1ae)" style="fill: none; stroke: #117733; stroke-width: 1.5"/>
<path d="M 317.52 1080.72 L 317.52 1029.6" clip-path="url(#peb3113d1ae)" style="fill: none; stroke: #117733; stroke-width: 1.5"/>
<path d="M 321.12 1076.4 L 321.12 1012.32" clip-path="url(#peb3113d1ae)" style="fill: none; stroke: #117733; stroke-width: 1.5"/>
<path d="M 338.4 1090.08 L 338.4 984.96" clip-path="url(#peb3113d1ae)" style="fill: none; stroke: #117733; stroke-width: 1.5"/>
<path d="M 360 1073.52 L 360 992.88" clip-path="url(#peb3113d1ae)" style="fill: none; stroke: #117733; stroke-width: 1.5"/>
<path d="M 360.72 1099.44 L 360.72 1029.6" clip-path="url(#peb3113d1ae)" style="fill: none; stroke: #117733; stroke-width: 1.5"/>
<path d="M 385.2 1074.96 L 385.2 1015.92" clip-path="url(#peb3113d1ae)" style="fill: none; stroke: #117733; stroke-width: 1.5"/>
<path d="M 396 1073.52 L 396 1035.36" clip-path="url(#peb3113d1ae)" style="fill: none; stroke: #117733; stroke-width: 1.5"/>
<path d="M 410.4 1067.04 L 410.4 1037.52" clip-path="url(#peb3113d1ae)" style="fill: none; stroke: #117733; stroke-width: 1.5"/>
<path d="M 410.4 1067.04 L 410.4 1019.52" clip-path="url(#peb3113d1ae)" style="fill: none; stroke: #117733; stroke-width: 1.5"/>
<path d="M 421.2 1063.44 L 421.2 1008.72" clip-path="url(#peb3113d1ae)" style="fill: none; stroke: #117733; stroke-width: 1.5"/>
<path d="M 421.2 1059.84 L 421.2 1023.84" clip-path="url(#peb3113d1ae)" style="fill: none; stroke: #117733; stroke-width: 1.5"/>
<path d="M 421.2 1069.2 L 421.2 1039.68" clip-path="url(#peb3113d1ae)" style="fill: none; stroke: #117733; stroke-width: 1.5"/>
<path d="M 421.2 1065.6 L 421.2 1001.52" clip-path="url(#peb3113d1ae)" style="fill: none; stroke: #117733; stroke-width: 1.5"/>
<path d="M 457.2 1090.08 L 457.2 1030.32" clip-path="url(#peb3113d1ae)" style="fill: none; stroke: #117733; stroke-width: 1.5"/>
<path d="M 488.88 1085.04 L 488.88 1042.56" clip-path="url(#peb3113d1ae)" style="fill: none; stroke: #117733; stroke-width: 1.5"/>
<path d="M 499.68 1067.76 L 499.68 1036.8" clip-path="url(#peb3113d1ae)" style="fill: none; stroke: #117733; stroke-width: 1.5"/>
<path d="M 510.48 1067.04 L 510.48 1014.48" clip-path="url(#peb3113d1ae)" style="fill: none; stroke: #117733; stroke-width: 1.5"/>
<path d="M 557.28 1068.48 L 557.28 1031.76" clip-path="url(#peb3113d1ae)" style="fill: none; stroke: #117733; stroke-width: 1.5"/>
<path d="M 582.48 1050.48 L 582.48 1014.48" clip-path="url(#peb3113d1ae)" style="fill: none; stroke: #117733; stroke-width: 1.5"/>
<path d="M 614.16 1042.56 L 614.16 1013.04" clip-path="url(#peb3113d1ae)" style="fill: none; stroke: #117733; stroke-width: 1.5"/>
<path d="M 707.04 1046.88 L 707.04 1018.8" clip-path="url(#peb3113d1ae)" style="fill: none; stroke: #117733; stroke-width: 1.5"/>
<path d="M 731.52 1084.32 L 731.52 1048.32" clip-path="url(#peb3113d1ae)" style="fill: none; stroke: #117733; stroke-width: 1.5"/>
<path d="M 781.92 1056.24 L 781.92 1016.64" clip-path="url(#peb3113d1ae)" style="fill: none; stroke: #117733; stroke-width: 1.5"/>
<path d="M 781.92 1068.48 L 781.92 1017.36" clip-path="url(#peb3113d1ae)" style="fill: none; stroke: #117733; stroke-width: 1.5"/>
<path d="M 817.92 1014.48 L 817.92 977.76" clip-path="url(#peb3113d1ae)" style="fill: none; stroke: #117733; stroke-width: 1.5"/>
<path d="M 846.72 1121.04 L 846.72 1019.52" clip-path="url(#peb3113d1ae)" style="fill: none; stroke: #117733; stroke-width: 1.5"/>
<path d="M 864.72 1100.16 L 864.72 1014.48" clip-path="url(#peb3113d1ae)" style="fill: none; stroke: #117733; stroke-width: 1.5"/>
<path d="M 874.8 1035.36 L 874.8 965.52" clip-path="url(#peb3113d1ae)" style="fill: none; stroke: #117733; stroke-width: 1.5"/>
<path d="M 885.6 1038.96 L 885.6 992.16" clip-path="url(#peb3113d1ae)" style="fill: none; stroke: #117733; stroke-width: 1.5"/>
<path d="M 896.4 1036.8 L 896.4 977.76" clip-path="url(#peb3113d1ae)" style="fill: none; stroke: #117733; stroke-width: 1.5"/>
<path d="M 910.8 1041.84 L 910.8 986.4" clip-path="url(#peb3113d1ae)" style="fill: none; stroke: #117733; stroke-width: 1.5"/>
<path d="M 910.8 1057.68 L 910.8 1004.4" clip-path="url(#peb3113d1ae)" style="fill: none; stroke: #117733; stroke-width: 1.5"/>
</g>
<g id="LineCollection_6">
<path d="M 167.04 1091.52 L 167.04 1026" clip-path="url(#peb3113d1ae)" style="fill: none; stroke: #882255; stroke-width: 1.5"/>
<path d="M 199.44 1086.48 L 199.44 1033.92" clip-path="url(#peb3113d1ae)" style="fill: none; stroke: #882255; stroke-width: 1.5"/>
<path d="M 199.44 1105.92 L 199.44 1041.84" clip-path="url(#peb3113d1ae)" style="fill: none; stroke: #882255; stroke-width: 1.5"/>
<path d="M 210.24 1098.72 L 210.24 1037.52" clip-path="url(#peb3113d1ae)" style="fill: none; stroke: #882255; stroke-width: 1.5"/>
<path d="M 223.92 1080 L 223.92 1002.96" clip-path="url(#peb3113d1ae)" style="fill: none; stroke: #882255; stroke-width: 1.5"/>
<path d="M 234.72 1123.92 L 234.72 1055.52" clip-path="url(#peb3113d1ae)" style="fill: none; stroke: #882255; stroke-width: 1.5"/>
<path d="M 234.72 1140.48 L 234.72 1064.16" clip-path="url(#peb3113d1ae)" style="fill: none; stroke: #882255; stroke-width: 1.5"/>
<path d="M 245.52 1112.4 L 245.52 1052.64" clip-path="url(#peb3113d1ae)" style="fill: none; stroke: #882255; stroke-width: 1.5"/>
<path d="M 299.52 1105.92 L 299.52 1069.2" clip-path="url(#peb3113d1ae)" style="fill: none; stroke: #882255; stroke-width: 1.5"/>
<path d="M 310.32 1097.28 L 310.32 1049.04" clip-path="url(#peb3113d1ae)" style="fill: none; stroke: #882255; stroke-width: 1.5"/>
<path d="M 321.12 1085.76 L 321.12 1045.44" clip-path="url(#peb3113d1ae)" style="fill: none; stroke: #882255; stroke-width: 1.5"/>
<path d="M 338.4 1093.68 L 338.4 1022.4" clip-path="url(#peb3113d1ae)" style="fill: none; stroke: #882255; stroke-width: 1.5"/>
<path d="M 385.2 1077.12 L 385.2 1043.28" clip-path="url(#peb3113d1ae)" style="fill: none; stroke: #882255; stroke-width: 1.5"/>
<path d="M 396 1093.68 L 396 1059.84" clip-path="url(#peb3113d1ae)" style="fill: none; stroke: #882255; stroke-width: 1.5"/>
<path d="M 410.4 1090.08 L 410.4 1046.16" clip-path="url(#peb3113d1ae)" style="fill: none; stroke: #882255; stroke-width: 1.5"/>
<path d="M 421.2 1072.8 L 421.2 1043.28" clip-path="url(#peb3113d1ae)" style="fill: none; stroke: #882255; stroke-width: 1.5"/>
<path d="M 421.2 1083.6 L 421.2 1046.16" clip-path="url(#peb3113d1ae)" style="fill: none; stroke: #882255; stroke-width: 1.5"/>
<path d="M 432 1088.64 L 432 1049.04" clip-path="url(#peb3113d1ae)" style="fill: none; stroke: #882255; stroke-width: 1.5"/>
<path d="M 442.8 1105.92 L 442.8 1064.88" clip-path="url(#peb3113d1ae)" style="fill: none; stroke: #882255; stroke-width: 1.5"/>
<path d="M 457.2 1084.32 L 457.2 1047.6" clip-path="url(#peb3113d1ae)" style="fill: none; stroke: #882255; stroke-width: 1.5"/>
<path d="M 467.28 1090.8 L 467.28 1059.84" clip-path="url(#peb3113d1ae)" style="fill: none; stroke: #882255; stroke-width: 1.5"/>
<path d="M 478.8 1066.32 L 478.8 1036.8" clip-path="url(#peb3113d1ae)" style="fill: none; stroke: #882255; stroke-width: 1.5"/>
<path d="M 489.6 1069.92 L 489.6 1041.84" clip-path="url(#peb3113d1ae)" style="fill: none; stroke: #882255; stroke-width: 1.5"/>
<path d="M 510.48 1069.2 L 510.48 1038.24" clip-path="url(#peb3113d1ae)" style="fill: none; stroke: #882255; stroke-width: 1.5"/>
<path d="M 556.56 1055.52 L 556.56 1035.36" clip-path="url(#peb3113d1ae)" style="fill: none; stroke: #882255; stroke-width: 1.5"/>
<path d="M 582.48 1064.16 L 582.48 1038.96" clip-path="url(#peb3113d1ae)" style="fill: none; stroke: #882255; stroke-width: 1.5"/>
<path d="M 614.16 1083.6 L 614.16 984.96" clip-path="url(#peb3113d1ae)" style="fill: none; stroke: #882255; stroke-width: 1.5"/>
<path d="M 624.96 1025.28 L 624.96 1001.52" clip-path="url(#peb3113d1ae)" style="fill: none; stroke: #882255; stroke-width: 1.5"/>
<path d="M 660.24 1049.04 L 660.24 1032.48" clip-path="url(#peb3113d1ae)" style="fill: none; stroke: #882255; stroke-width: 1.5"/>
<path d="M 668.16 1023.84 L 668.16 999.36" clip-path="url(#peb3113d1ae)" style="fill: none; stroke: #882255; stroke-width: 1.5"/>
<path d="M 678.24 1059.84 L 678.24 1024.56" clip-path="url(#peb3113d1ae)" style="fill: none; stroke: #882255; stroke-width: 1.5"/>
<path d="M 707.04 1049.04 L 707.04 1024.56" clip-path="url(#peb3113d1ae)" style="fill: none; stroke: #882255; stroke-width: 1.5"/>
<path d="M 731.52 1054.08 L 731.52 1023.12" clip-path="url(#peb3113d1ae)" style="fill: none; stroke: #882255; stroke-width: 1.5"/>
<path d="M 731.52 1054.8 L 731.52 1025.28" clip-path="url(#peb3113d1ae)" style="fill: none; stroke: #882255; stroke-width: 1.5"/>
<path d="M 753.12 1055.52 L 753.12 1027.44" clip-path="url(#peb3113d1ae)" style="fill: none; stroke: #882255; stroke-width: 1.5"/>
<path d="M 756.72 1055.52 L 756.72 1026" clip-path="url(#peb3113d1ae)" style="fill: none; stroke: #882255; stroke-width: 1.5"/>
<path d="M 763.92 1054.08 L 763.92 1025.28" clip-path="url(#peb3113d1ae)" style="fill: none; stroke: #882255; stroke-width: 1.5"/>
<path d="M 753.84 1063.44 L 753.84 1033.92" clip-path="url(#peb3113d1ae)" style="fill: none; stroke: #882255; stroke-width: 1.5"/>
<path d="M 763.92 1054.8 L 763.92 1024.56" clip-path="url(#peb3113d1ae)" style="fill: none; stroke: #882255; stroke-width: 1.5"/>
<path d="M 781.92 1045.44 L 781.92 1007.28" clip-path="url(#peb3113d1ae)" style="fill: none; stroke: #882255; stroke-width: 1.5"/>
<path d="M 817.92 1049.76 L 817.92 1024.56" clip-path="url(#peb3113d1ae)" style="fill: none; stroke: #882255; stroke-width: 1.5"/>
<path d="M 817.92 1061.28 L 817.92 1037.52" clip-path="url(#peb3113d1ae)" style="fill: none; stroke: #882255; stroke-width: 1.5"/>
<path d="M 846 1054.08 L 846 979.92" clip-path="url(#peb3113d1ae)" style="fill: none; stroke: #882255; stroke-width: 1.5"/>
<path d="M 864 1024.56 L 864 977.76" clip-path="url(#peb3113d1ae)" style="fill: none; stroke: #882255; stroke-width: 1.5"/>
<path d="M 882 1065.6 L 882 1020.24" clip-path="url(#peb3113d1ae)" style="fill: none; stroke: #882255; stroke-width: 1.5"/>
<path d="M 885.6 1051.92 L 885.6 1018.8" clip-path="url(#peb3113d1ae)" style="fill: none; stroke: #882255; stroke-width: 1.5"/>
<path d="M 892.8 1065.6 L 892.8 1030.32" clip-path="url(#peb3113d1ae)" style="fill: none; stroke: #882255; stroke-width: 1.5"/>
<path d="M 896.4 1013.04 L 896.4 970.56" clip-path="url(#peb3113d1ae)" style="fill: none; stroke: #882255; stroke-width: 1.5"/>
<path d="M 900 1018.8 L 900 969.12" clip-path="url(#peb3113d1ae)" style="fill: none; stroke: #882255; stroke-width: 1.5"/>
<path d="M 910.8 1005.12 L 910.8 962.64" clip-path="url(#peb3113d1ae)" style="fill: none; stroke: #882255; stroke-width: 1.5"/>
<path d="M 1161.36 1097.28 L 1161.36 988.56" clip-path="url(#peb3113d1ae)" style="fill: none; stroke: #882255; stroke-width: 1.5"/>
</g>
<g id="line2d_41">
<path d="M 162 1047.6 L 1166.4 1047.6" clip-path="url(#peb3113d1ae)" style="fill: none; stroke-dasharray: 5.55,2.4; stroke-dashoffset: 0; stroke: #000000; stroke-width: 1.5"/>
</g>
<g id="line2d_42">
<g clip-path="url(#peb3113d1ae)">
<use href="#m12f4fc1c12" x="178.2" y="1054.44" style="fill: #117733"/>
<use href="#m12f4fc1c12" x="199.8" y="1071.72" style="fill: #117733"/>
<use href="#m12f4fc1c12" x="199.8" y="1089" style="fill: #117733"/>
<use href="#m12f4fc1c12" x="209.88" y="1075.32" style="fill: #117733"/>
<use href="#m12f4fc1c12" x="235.08" y="1085.4" style="fill: #117733"/>
<use href="#m12f4fc1c12" x="235.08" y="1113.48" style="fill: #117733"/>
<use href="#m12f4fc1c12" x="281.88" y="1077.48" style="fill: #117733"/>
<use href="#m12f4fc1c12" x="310.68" y="1064.52" style="fill: #117733"/>
<use href="#m12f4fc1c12" x="317.88" y="1055.88" style="fill: #117733"/>
<use href="#m12f4fc1c12" x="321.48" y="1045.08" style="fill: #117733"/>
<use href="#m12f4fc1c12" x="338.76" y="1037.88" style="fill: #117733"/>
<use href="#m12f4fc1c12" x="360.36" y="1033.56" style="fill: #117733"/>
<use href="#m12f4fc1c12" x="361.08" y="1064.52" style="fill: #117733"/>
<use href="#m12f4fc1c12" x="385.56" y="1045.8" style="fill: #117733"/>
<use href="#m12f4fc1c12" x="396.36" y="1054.44" style="fill: #117733"/>
<use href="#m12f4fc1c12" x="410.76" y="1052.28" style="fill: #117733"/>
<use href="#m12f4fc1c12" x="410.76" y="1043.64" style="fill: #117733"/>
<use href="#m12f4fc1c12" x="421.56" y="1036.44" style="fill: #117733"/>
<use href="#m12f4fc1c12" x="421.56" y="1042.2" style="fill: #117733"/>
<use href="#m12f4fc1c12" x="421.56" y="1054.44" style="fill: #117733"/>
<use href="#m12f4fc1c12" x="421.56" y="1033.56" style="fill: #117733"/>
<use href="#m12f4fc1c12" x="457.56" y="1060.92" style="fill: #117733"/>
<use href="#m12f4fc1c12" x="489.24" y="1064.52" style="fill: #117733"/>
<use href="#m12f4fc1c12" x="500.04" y="1052.28" style="fill: #117733"/>
<use href="#m12f4fc1c12" x="510.84" y="1041.48" style="fill: #117733"/>
<use href="#m12f4fc1c12" x="557.64" y="1050.84" style="fill: #117733"/>
<use href="#m12f4fc1c12" x="582.84" y="1032.84" style="fill: #117733"/>
<use href="#m12f4fc1c12" x="614.52" y="1028.52" style="fill: #117733"/>
<use href="#m12f4fc1c12" x="707.4" y="1032.84" style="fill: #117733"/>
<use href="#m12f4fc1c12" x="731.88" y="1066.68" style="fill: #117733"/>
<use href="#m12f4fc1c12" x="782.28" y="1036.44" style="fill: #117733"/>
<use href="#m12f4fc1c12" x="782.28" y="1042.92" style="fill: #117733"/>
<use href="#m12f4fc1c12" x="818.28" y="996.12" style="fill: #117733"/>
<use href="#m12f4fc1c12" x="847.08" y="1070.28" style="fill: #117733"/>
<use href="#m12f4fc1c12" x="865.08" y="1058.04" style="fill: #117733"/>
<use href="#m12f4fc1c12" x="875.16" y="1001.16" style="fill: #117733"/>
<use href="#m12f4fc1c12" x="885.96" y="1016.28" style="fill: #117733"/>
<use href="#m12f4fc1c12" x="896.76" y="1007.64" style="fill: #117733"/>
<use href="#m12f4fc1c12" x="911.16" y="1014.84" style="fill: #117733"/>
<use href="#m12f4fc1c12" x="911.16" y="1031.4" style="fill: #117733"/>
</g>
</g>
<g id="line2d_43">
<g clip-path="url(#peb3113d1ae)">
<use href="#m32cfd63de9" x="167.4" y="1059.48" style="fill: #882255"/>
<use href="#m32cfd63de9" x="199.8" y="1060.2" style="fill: #882255"/>
<use href="#m32cfd63de9" x="199.8" y="1073.88" style="fill: #882255"/>
<use href="#m32cfd63de9" x="210.6" y="1068.12" style="fill: #882255"/>
<use href="#m32cfd63de9" x="224.28" y="1041.48" style="fill: #882255"/>
<use href="#m32cfd63de9" x="235.08" y="1089.72" style="fill: #882255"/>
<use href="#m32cfd63de9" x="235.08" y="1102.68" style="fill: #882255"/>
<use href="#m32cfd63de9" x="245.88" y="1082.52" style="fill: #882255"/>
<use href="#m32cfd63de9" x="299.88" y="1087.56" style="fill: #882255"/>
<use href="#m32cfd63de9" x="310.68" y="1073.88" style="fill: #882255"/>
<use href="#m32cfd63de9" x="321.48" y="1065.96" style="fill: #882255"/>
<use href="#m32cfd63de9" x="338.76" y="1058.04" style="fill: #882255"/>
<use href="#m32cfd63de9" x="385.56" y="1060.92" style="fill: #882255"/>
<use href="#m32cfd63de9" x="396.36" y="1077.48" style="fill: #882255"/>
<use href="#m32cfd63de9" x="410.76" y="1068.84" style="fill: #882255"/>
<use href="#m32cfd63de9" x="421.56" y="1058.04" style="fill: #882255"/>
<use href="#m32cfd63de9" x="421.56" y="1065.24" style="fill: #882255"/>
<use href="#m32cfd63de9" x="432.36" y="1068.84" style="fill: #882255"/>
<use href="#m32cfd63de9" x="443.16" y="1086.12" style="fill: #882255"/>
<use href="#m32cfd63de9" x="457.56" y="1065.96" style="fill: #882255"/>
<use href="#m32cfd63de9" x="467.64" y="1076.04" style="fill: #882255"/>
<use href="#m32cfd63de9" x="479.16" y="1052.28" style="fill: #882255"/>
<use href="#m32cfd63de9" x="489.96" y="1055.88" style="fill: #882255"/>
<use href="#m32cfd63de9" x="510.84" y="1053.72" style="fill: #882255"/>
<use href="#m32cfd63de9" x="556.92" y="1045.8" style="fill: #882255"/>
<use href="#m32cfd63de9" x="582.84" y="1052.28" style="fill: #882255"/>
<use href="#m32cfd63de9" x="614.52" y="1034.28" style="fill: #882255"/>
<use href="#m32cfd63de9" x="625.32" y="1014.12" style="fill: #882255"/>
<use href="#m32cfd63de9" x="660.6" y="1041.48" style="fill: #882255"/>
<use href="#m32cfd63de9" x="668.52" y="1011.96" style="fill: #882255"/>
<use href="#m32cfd63de9" x="678.6" y="1042.92" style="fill: #882255"/>
<use href="#m32cfd63de9" x="707.4" y="1037.16" style="fill: #882255"/>
<use href="#m32cfd63de9" x="731.88" y="1038.6" style="fill: #882255"/>
<use href="#m32cfd63de9" x="731.88" y="1040.04" style="fill: #882255"/>
<use href="#m32cfd63de9" x="753.48" y="1041.48" style="fill: #882255"/>
<use href="#m32cfd63de9" x="757.08" y="1041.48" style="fill: #882255"/>
<use href="#m32cfd63de9" x="764.28" y="1040.04" style="fill: #882255"/>
<use href="#m32cfd63de9" x="754.2" y="1048.68" style="fill: #882255"/>
<use href="#m32cfd63de9" x="764.28" y="1040.04" style="fill: #882255"/>
<use href="#m32cfd63de9" x="782.28" y="1027.08" style="fill: #882255"/>
<use href="#m32cfd63de9" x="818.28" y="1037.88" style="fill: #882255"/>
<use href="#m32cfd63de9" x="818.28" y="1050.12" style="fill: #882255"/>
<use href="#m32cfd63de9" x="846.36" y="1017.72" style="fill: #882255"/>
<use href="#m32cfd63de9" x="864.36" y="1001.88" style="fill: #882255"/>
<use href="#m32cfd63de9" x="882.36" y="1042.92" style="fill: #882255"/>
<use href="#m32cfd63de9" x="885.96" y="1035.72" style="fill: #882255"/>
<use href="#m32cfd63de9" x="893.16" y="1048.68" style="fill: #882255"/>
<use href="#m32cfd63de9" x="896.76" y="992.52" style="fill: #882255"/>
<use href="#m32cfd63de9" x="900.36" y="994.68" style="fill: #882255"/>
<use href="#m32cfd63de9" x="911.16" y="984.6" style="fill: #882255"/>
<use href="#m32cfd63de9" x="1161.72" y="1042.92" style="fill: #882255"/>
</g>
</g>
<g id="patch_18">
<path d="M 162.36 1153.8 L 162.36 961.56" style="fill: none; stroke: #000000; stroke-width: 0.8; stroke-linejoin: miter; stroke-linecap: square"/>
</g>
<g id="patch_19">
<path d="M 1166.76 1153.8 L 1166.76 961.56" style="fill: none; stroke: #000000; stroke-width: 0.8; stroke-linejoin: miter; stroke-linecap: square"/>
</g>
<g id="patch_20">
<path d="M 162.36 1153.8 L 1166.76 1153.8" style="fill: none; stroke: #000000; stroke-width: 0.8; stroke-linejoin: miter; stroke-linecap: square"/>
</g>
<g id="patch_21">
<path d="M 162.36 961.56 L 1166.76 961.56" style="fill: none; stroke: #000000; stroke-width: 0.8; stroke-linejoin: miter; stroke-linecap: square"/>
</g>
</g>
<g id="text_46">
<g transform="translate(0 0.72)"><text style="font-size: 28.8px; font-family: 'DejaVu Sans', sans-serif; text-anchor: middle" x="648" y="47.8035" transform="rotate(-0 648 47.8035)">60450 Light Curve Plots</text></g>
</g>
</g>
<defs>
<clipPath id="p80fca86219">
<rect x="162" y="155.52" width="1004.4" height="191.907692"/>
</clipPath>
<clipPath id="p6aef6e5579">
<rect x="162" y="424.190769" width="1004.4" height="191.907692"/>
</clipPath>
<clipPath id="p42164345dd">
<rect x="162" y="692.861538" width="1004.4" height="191.907692"/>
</clipPath>
<clipPath id="peb3113d1ae">
<rect x="162" y="961.532308" width="1004.4" height="191.907692"/>
</clipPath>
</defs>
</svg>

</body></html>
